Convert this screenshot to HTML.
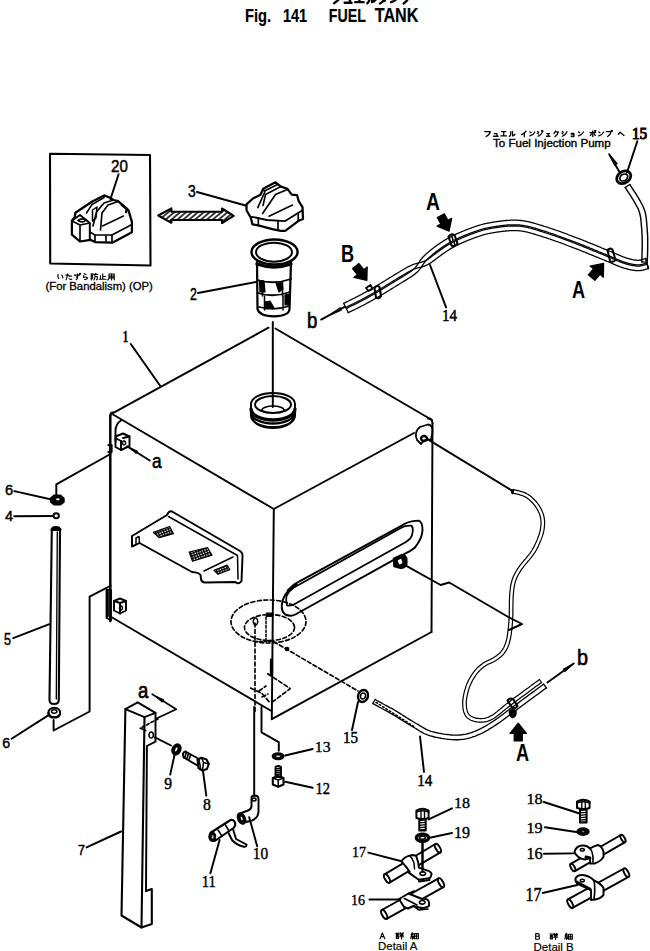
<!DOCTYPE html>
<html><head><meta charset="utf-8">
<style>
html,body{margin:0;padding:0;background:#fff;width:650px;height:951px;overflow:hidden}
svg{display:block;position:absolute;left:0;top:0}
.r{font-family:"Liberation Serif",serif}
</style></head><body>
<svg width="650" height="951" viewBox="0 0 650 951">
<defs><pattern id="mesh" width="2.6" height="2.6" patternUnits="userSpaceOnUse" patternTransform="rotate(-20)"><rect width="2.6" height="2.6" fill="#fff"/><path d="M0 0.6 H2.6 M0.6 0 V2.6" stroke="#000" stroke-width="1.3"/></pattern><pattern id="hatch" width="3.8" height="20" patternUnits="userSpaceOnUse" patternTransform="rotate(50)"><rect width="3.8" height="20" fill="#fff"/><path d="M1 0 V20" stroke="#000" stroke-width="1.5"/></pattern></defs>
<g fill="none" stroke="#000" stroke-width="1.95" stroke-linejoin="round" stroke-linecap="round"><path d="M268.5 327.7 L111.5 413.8"/><path d="M275.4 328.5 L432 420"/><path d="M113 414.5 L273.8 509 L414 433"/><path d="M110.3 416 L110.3 621" stroke-width="2.47"/><path d="M110.3 416 Q110.5 412.5 113 412.8" stroke-width="2.40"/><path d="M273.8 509 L271.8 719"/><path d="M432.5 423 L431.5 632"/><path d="M428 418.5 Q432 418 432.5 423"/><path d="M109.6 616 L270.5 710.5"/><path d="M271.8 719.2 L431.5 632"/><path d="M251 404 A22 11 0 0 1 295 404 L295 416 A22 11 0 0 1 251 416 Z"/><path d="M255 404.5 A18 8.5 0 0 1 291 404.5 A18 8.5 0 0 1 255 404.5 Z"/><path d="M262 410 A11 4 0 0 1 284 410" stroke-width="1.50"/><path d="M251 409 A22 11 0 0 0 295 409" stroke-width="3.30"/><path d="M251 412.5 A22 11 0 0 0 295 412.5" stroke-width="2.40"/><path d="M253 418 A20 10 0 0 0 293 418 L293 412" stroke-width="1.80"/><path d="M253 418 L253 412" stroke-width="1.80"/><path d="M272.8 322 L272.8 407"/><path d="M130.8 344 L160.3 386"/><path d="M121 420.5 Q115.5 424 115.5 431 L115.5 441"/><path d="M115.5 436.5 L123 433.5 L129.5 436.5 L129.5 446 L121 450 L115.5 447 Z"/><path d="M123 438 L129.5 436.5 M121 441 L121 450"/><path d="M121 441 L115.5 438" stroke-width="1.50"/><path d="M124 441 a1.6 2 0 1 0 0.01 0" stroke-width="1.50"/><path d="M108.5 445 L111.5 445 L111.5 452 L108.5 452" stroke-width="2.25"/><path d="M149.7 460.5 L127.1 446.2"/><path d="M129.8 448.4 L136.3 453.6 L137.7 451.2 L130.2 447.8 Z" stroke-width="0.90" fill="#000"/><path d="M114 601 L120 598.5 L126 601 L126 610.5 L120 613.5 L114 610.5 Z"/><path d="M120 603 L126 601 M120 603 L120 613.5 M114 601 L120 603"/><path d="M121 606 a1.5 2 0 1 0 0.01 0" stroke-width="1.50"/><path d="M106.5 590 L111 590 L111 620 L106.5 618 Z" stroke-width="1.80"/><path d="M107.5 592 L107.5 616" stroke-width="2.70"/><path d="M132 536 L167 515 Q169 510.5 172 511.5 L240 551 Q243 553 242.5 557 L241.5 581 Q239 585 235.5 582 L204.5 582.5 Q201.5 582 201 579 L200.5 575 Q199 572.5 192 572 L139.5 543 L135.5 545 L132 546.5 Z"/><path d="M136 544.5 L136 538 L139 536.5 L139.5 543" stroke-width="1.50"/><path d="M168.5 516.5 L237.5 555.5 L238 579" stroke-width="1.50"/><path d="M204 571 L233 557" stroke-width="1.50"/><g fill="url(#mesh)" stroke-width="1.20"><path d="M153.3 532.4 L169.6 526.5 L173.5 533.7 L159.2 537.7 Z"/><path d="M189.2 552 L207.5 547.5 L212.1 555.3 L192.5 561.2 Z"/><path d="M214 570.3 L227.2 565.1 L229.8 569.7 L218 574.3 Z"/></g><path d="M417 440 Q413.5 432 420 427 L428 424.5 Q433 425 432.5 432 L431 440 Q425 438 421 444 Z" stroke-width="1.80"/><path d="M424 436 a3 2.5 0 1 0 0.01 0" stroke-width="2.40"/><path d="M298.1 582.2 L400.8 526.2 Q407 521 418.4 520.6 Q422.5 521.5 422.5 530 Q422.5 538 414.7 547.8 Q411 551 405.5 553.4 L295.3 614.5 Q291 617 285.2 614.5 Q281 611 281.9 604 Q283 597 287 592.3 Q292 585 298.1 582.2 Z" stroke-width="1.95"/><path d="M293.5 587.7 L400.8 528 Q405 525.3 411.5 525.7 Q413 527 412.8 531 Q412.5 536 410.1 538.6 Q408 540.5 405.5 542.3 L292.5 605.2 Q288 606 287 605.2 Q285.5 600 286.5 596 Q288.5 591 293.5 587.7 Z" stroke-width="1.80"/><path d="M288.5 590.5 L296 584.5" stroke-width="3.30"/><path d="M393.5 558.5 L401 555 Q406 554.3 406.8 559 L406.8 564 Q405.5 568.2 400.5 568.2 L394 566.5 Z" stroke-width="1.50" fill="#000"/><path d="M397.5 560 L401.5 558 L403 563.5 L399 565 Z" stroke-width="0.90" fill="#fff"/><path d="M428.3 439.7 L513.2 491.4"/><path d="M405 565.2 L440.6 585 L449.2 582.5 L508.3 617 L522 624 L509 630"/><g stroke-dasharray="4 2.5" stroke-width="1.65"><ellipse cx="268.5" cy="621.5" rx="37.5" ry="21.5"/><ellipse cx="269.5" cy="627.5" rx="25" ry="13"/><path d="M255 623 L255 712"/><path d="M273.8 641.7 L358 691"/><path d="M267.7 673.8 L290.3 688.6 L270.5 703.4"/><path d="M250.5 688 L262 693.5 L270.5 703.4 M259 691 L266 686 M262 697 L268 694"/></g><path d="M255.5 618 a2.2 3.5 0 1 0 0.01 0" stroke-width="1.50"/><path d="M266.5 613 L272.5 613 L272.5 616.5 L266.5 616.5 Z" stroke-width="1.20" fill="#000"/><path d="M266 617 L266 640.5 L270.5 640.5 M255.5 641.4 L271 641.4" stroke-dasharray="2.5 1.8" stroke-width="1.50"/><path d="M271.5 660 L271.5 674" stroke-width="3.30"/><circle cx="287" cy="649" r="1.4" fill="#000"/><path d="M50 153.8 L150 155 L150.5 265.5 L50.2 263.5 Z" stroke-width="2.10"/><path d="M71.9 220.8 L71.9 234.6 L80 241.5 L90.4 239.8 L95 242.1 L112.3 242.7 L131.9 232.3 L131.9 221.9 L128.5 210.4 L118.1 201.2 L113.5 200 L110 197.7 L104.2 195.4 L92.7 201.2 L75.4 212.7 L74.8 217.3 Z" stroke-width="2.25"/><path d="M71.9 220.8 L80 215 L89.8 223 L89.8 239.5" stroke-width="1.95"/><path d="M80 225 L89.8 223 M80 225 L80 241.5 M72 221 L80 225" stroke-width="1.65"/><path d="M78 220.5 Q82 217.5 86 220 Q83 223.5 78 220.5 Z" stroke-width="1.80"/><path d="M89.8 232 L95 235 L112 235 L131.9 224.5" stroke-width="1.65"/><path d="M95 235 L95 242 M112 235 L112 242.7 M106 236 L106 241" stroke-width="1.65"/><path d="M93 226 L96.5 212 L104 203 L113.5 200" stroke-width="1.65"/><path d="M100.5 230 L102 213 L108 205 L118 201.5" stroke-width="1.65"/><path d="M86.5 213 L92 204.5 L104.2 197.5" stroke-width="1.50"/><path d="M102.5 226 L123.5 216" stroke-width="1.50"/><path d="M92.5 210 L97 207 L96 218 L92.5 221 Z" stroke-width="1.50"/><path d="M122 205 L127 209 L126 212" stroke-width="2.40"/><path d="M118.6 174.2 L110.5 199"/><path d="M158.2 215.5 L171.4 208.3 L171.4 211.8 L222 211.8 L222 208.5 L233.7 215.9 L222 223 L222 220 L171.4 220 L171.4 222.8 Z" stroke-width="2.10" fill="url(#hatch)"/><path d="M246.5 204.4 L252.9 198.5 L260.5 194.7 L263.2 188.8 L275.5 182.3 L280.9 186.6 L287.4 188.8 L291.7 194.7 L297.1 195.2 L298.7 201.2 L302.5 207.1 L303 218.9 L298.2 221.1 L285.2 230.8 L280.9 230.8 L272.3 229.2 L258.3 225.4 L252.4 224.3 L250.8 217.8 L246.5 210.3 Z" stroke-width="2.25"/><path d="M251.8 216.8 L266.9 220 L285.2 221.1 L302.5 210.3" stroke-width="1.80"/><path d="M258.3 218 L258.3 225.4 M278 221 L278 230.5 M298.2 213 L298.2 221" stroke-width="1.65"/><path d="M263.2 188.8 L264.8 192 L257.8 207.6" stroke-width="1.65"/><path d="M280.9 186.6 L265.5 194.5 L263 205.5" stroke-width="1.65"/><path d="M287.4 189.5 L275.5 194.5 L262.6 213.5" stroke-width="1.65"/><path d="M292.5 205 L269 216.3" stroke-width="1.50"/><path d="M264.5 191 L277.5 184.5" stroke-width="1.50"/><path d="M197 192 L245.5 205.5"/><path d="M251.5 252 A23 12.5 0 1 1 297.6 252 A23 12.5 0 1 1 251.5 252 Z" stroke-width="2.40"/><path d="M256 252.2 A18 9.5 0 1 1 292 252.2 A18 9.5 0 1 1 256 252.2 Z" stroke-width="1.95"/><path d="M257 262 L257.5 309 Q259 316 274 316.3 Q289 316 289.5 309 L291 262" stroke-width="2.25"/><path d="M257 264 Q274 270 291 264" stroke-width="3.30"/><path d="M257.5 280 Q274 285 291 279" stroke-width="1.80"/><path d="M258 293 Q274 298 290 292" stroke-width="1.80"/><path d="M259 307 Q274 311 289.5 306" stroke-width="1.80"/><path d="M262.5 281 L262.5 296 M282.5 282 L282.5 296 M264.5 296 L264.5 310 M283 296 L283 310" stroke-width="1.50"/><path d="M259.5 280.5 L264 281 L265 292 L260 292 Z" stroke-width="1.20" fill="#000"/><path d="M276 283 L282 282.5 L283 289 L279 292 Z" stroke-width="1.20" fill="#000"/><path d="M285 295 L289.5 294 L289 305 L285 305 Z" stroke-width="1.20" fill="#000"/><path d="M264.5 302 L270 301 L274 308 L266 309 Z" stroke-width="1.20" fill="#000"/><path d="M198 293 L256 282"/><path d="M56.3 495.4 L56.3 484.3 L110.5 454"/><path d="M51 498 L54 495.5 L60.5 495.5 L63.8 498.5 L63.8 502 L60.5 504.5 L54 504.5 L51 502 Z" stroke-width="1.80" fill="#000"/><path d="M55.5 499.3 a2.2 1.4 0 1 0 4.4 0 a2.2 1.4 0 1 0 -4.4 0" stroke-width="0.75" fill="#fff"/><path d="M14.3 491.1 L51.5 499.5"/><path d="M53.5 515.7 a2.7 2.5 0 1 0 5.4 0 a2.7 2.5 0 1 0 -5.4 0" stroke-width="1.95"/><path d="M14.3 516.3 L52.6 516"/><path d="M51.8 530 Q51.8 527 56 527 Q60 527 60 530 L58.8 700 Q58.8 704 54 704 Q49.5 704 49.5 700 Z" stroke-width="2.10"/><path d="M52 529.5 L60 529.5" stroke-width="3.00"/><path d="M57.3 532 L56.3 699" stroke-width="1.35"/><path d="M13.2 638.2 L49.4 624.2"/><path d="M48.5 712.5 A5.8 4.2 0 1 1 60 712.5 A5.8 4.2 0 1 1 48.5 712.5 Z" stroke-width="1.95"/><path d="M48.5 712.5 L48.5 714 A5.8 4.2 0 0 0 60 714 L60 712.5" stroke-width="1.95"/><path d="M51.5 711.5 a2.7 1.7 0 1 0 5.4 0 a2.7 1.7 0 1 0 -5.4 0" stroke-width="1.50"/><path d="M11.6 738.8 L49.4 714.6"/><path d="M53.6 720 L53.6 730.5 L89.6 711.5 L89.6 596.7 L110.9 585.6"/><path d="M125.4 709.1 L137.7 702.3 L155.5 712.8 L144.5 717.1 Z" stroke-width="1.95"/><path d="M125.4 709.1 L121.5 915.5 L141.5 927.5 L151.8 924 L151.8 889 L146 891" stroke-width="2.10"/><path d="M144.5 717.1 L141.5 927.5" stroke-width="2.10"/><path d="M155.5 712.8 L155.5 741.7 L146.9 746 L146 891" stroke-width="1.95"/><path d="M152.3 694.2 L176.2 709.2 L156.5 718.5" stroke-width="1.80"/><path d="M156.3 697.2 L162.2 702.3 L163.8 699.7 L156.7 696.6 Z" stroke-width="0.90" fill="#000"/><path d="M158 718.9 L140.2 728.2 L145.7 730.6" stroke-dasharray="3 2" stroke-width="1.65"/><path d="M151.2 735 m-2.2 0 a2.2 3 0 1 0 4.4 0 a2.2 3 0 1 0 -4.4 0" stroke-width="1.65"/><path d="M154.9 737.4 L171 745.5"/><ellipse cx="176.5" cy="749.4" rx="4.2" ry="5.6" transform="rotate(25 176.5 749.4)" fill="#000" stroke-width="1.50"/><ellipse cx="176.3" cy="749.4" rx="0.9" ry="2.2" transform="rotate(25 176.3 749.4)" fill="#fff" stroke="none"/><path d="M174.5 755 L170.2 774.6"/><path d="M185.5 751.5 L199 759 M183.8 757.5 L197.5 765.5" stroke-width="1.95"/><path d="M185.5 751.5 Q181.5 752.5 183.8 757.5" stroke-width="2.10"/><g stroke-width="1.65"><path d="M186.5 752.3 L184.8 757.2"/><path d="M188.6 753.5 L186.9 758.4"/><path d="M190.7 754.7 L189.0 759.6"/></g><path d="M197.5 759.5 L201.5 757.8 L206.5 759.5 L208.8 764 L207 769 L202.5 770.5 L198.5 768 Z" stroke-width="2.10"/><path d="M201.5 757.8 L203.5 762.5 L208.8 764 M203.5 762.5 L202.5 770.5 M199 760 L200.5 767.5" stroke-width="1.50"/><path d="M203 771 L206.3 795.6"/><path d="M86.6 847.4 L121 831.5"/><path d="M254.2 707 L254.2 796.3"/><path d="M261.5 707 L261.5 732.3 L278.8 742.2 L278.8 750.8"/><path d="M272.6 756.3 a5.5 3 0 1 0 11 0 a5.5 3 0 1 0 -11 0" stroke-width="1.95" fill="#000"/><path d="M275.6 756.3 a2.5 1.2 0 1 0 5 0 a2.5 1.2 0 1 0 -5 0" stroke-width="0.90" fill="#fff"/><path d="M285.2 755.5 L312.7 749"/><path d="M275.5 767 L275.5 777 L281 777 L281 767 Q278 765 275.5 767 Z" stroke-width="1.80"/><g stroke-width="1.50"><path d="M275.5 769.0 L281 768.0"/><path d="M275.5 771.0 L281 770.0"/><path d="M275.5 773.0 L281 772.0"/><path d="M275.5 775.0 L281 774.0"/></g><path d="M272.8 778 L278.2 776 L283.5 778 L283.5 784.5 L278.2 786.8 L272.8 784.5 Z" stroke-width="2.10"/><path d="M278.2 780 L278.2 786.8 M272.8 778 L278.2 780 L283.5 778" stroke-width="1.50"/><path d="M285.2 781.8 L312.7 787.8"/><path d="M251.5 799 Q251 795.5 254.5 795.5 Q258.5 795.5 258.5 799 L258.5 812 Q258 818 252 820.5 L246 822 L241.5 813 L248 810.5 Q251.5 809 251.5 806 Z" stroke-width="1.95"/><path d="M252 799.5 a2 1.5 0 1 0 4 0 a2 1.5 0 1 0 -4 0" stroke-width="1.50"/><path d="M238.5 814 a3 5 -25 1 0 6 9 a3 5 -25 1 0 -6 -9" stroke-width="2.10" fill="#000"/><path d="M240.5 816.5 a1.2 2.3 -25 1 0 2.4 4 a1.2 2.3 -25 1 0 -2.4 -4" stroke-width="0.90" fill="#fff"/><path d="M249.2 817.2 L257.2 846.2"/><path d="M211 832.5 L229 821 Q232 818.5 234.5 821.5 Q236.5 825 233.5 828 L215.5 840.5 Q211 842 209.8 838.5 Q209 835 211 832.5 Z" stroke-width="2.10"/><path d="M209.8 835.5 a2.6 3.3 -30 1 0 5.2 2 a2.6 3.3 -30 1 0 -5.2 -2" stroke-width="1.95" fill="#000"/><path d="M211.7 836.5 a1 1.5 -30 1 0 2 1 a1 1.5 -30 1 0 -2 -1" stroke-width="0.75" fill="#fff"/><path d="M228 832 L232 840 Q236.5 845 243 846.5 Q247 847.5 246.5 844.5 L236 839 L233 829" stroke-width="1.95"/><path d="M218 830 L222 836 M225.5 825 L229 831" stroke-width="1.50"/><path d="M219.6 840 L210.4 873.2"/><g stroke-width="1.27"><path d="M348.3 312.7 L348.4 312.6 L348.6 312.5 L348.8 312.4 L349.0 312.3 L349.2 312.2 L349.5 312.1 L349.7 312.0 L350.0 311.8 L350.3 311.7 L350.6 311.5 L350.9 311.4 L351.2 311.3 L351.5 311.1 L351.8 311.0 L352.1 310.8 L352.4 310.6 L352.8 310.5 L353.1 310.3 L353.5 310.1 L353.8 309.9 L354.2 309.8 L354.6 309.6 L354.9 309.4 L355.3 309.2 L355.7 309.0 L356.1 308.9 L356.4 308.7 L356.8 308.5 L357.2 308.3 L357.6 308.1 L358.0 307.9 L358.4 307.7 L358.8 307.5 L359.2 307.3 L359.6 307.1 L360.0 306.9 L360.4 306.7 L360.7 306.5 L361.1 306.3 L361.5 306.1 L361.9 305.9 L362.2 305.7 L362.6 305.5 L363.0 305.4 L363.3 305.2 L363.7 305.0 L364.1 304.8 L364.4 304.6 L364.8 304.4 L365.1 304.2 L365.5 304.0 L365.8 303.9 L366.1 303.7 L366.5 303.5 L366.8 303.3 L367.1 303.1 L367.5 303.0 L367.8 302.8 L368.1 302.6 L368.5 302.4 L368.8 302.2 L369.1 302.1 L369.4 301.9 L369.8 301.7 L370.1 301.5 L370.4 301.3 L370.8 301.1 L371.1 301.0 L371.4 300.8 L371.8 300.6 L372.1 300.4 L372.4 300.2 L372.8 300.0 L373.1 299.8 L373.4 299.7 L373.8 299.5 L374.1 299.3 L374.4 299.1 L374.8 298.9 L375.1 298.7 L375.4 298.5 L375.8 298.3 L376.1 298.1 L376.5 297.9 L376.8 297.7 L377.1 297.5 L377.5 297.3 L377.8 297.1 L378.2 296.9 L378.5 296.7 L378.9 296.5 L379.2 296.3 L379.6 296.1 L379.9 295.9 L380.3 295.7 L380.6 295.5 L381.0 295.3 L381.4 295.1 L381.7 294.8 L382.1 294.6 L382.5 294.4 L382.8 294.2 L383.2 294.0 L383.6 293.7 L383.9 293.5 L384.3 293.3 L384.7 293.1 L385.1 292.8 L385.4 292.6 L385.8 292.4 L386.2 292.2 L386.6 291.9 L386.9 291.7 L387.3 291.5 L387.7 291.2 L388.1 291.0 L388.5 290.8 L388.8 290.5 L389.2 290.3 L389.6 290.1 L390.0 289.8 L390.4 289.6 L390.7 289.3 L391.1 289.1 L391.5 288.9 L391.9 288.6 L392.3 288.4 L392.7 288.2 L393.0 287.9 L393.4 287.7 L393.8 287.5 L394.2 287.2 L394.6 287.0 L394.9 286.8 L395.3 286.5 L395.7 286.3 L396.1 286.1 L396.4 285.8 L396.8 285.6 L397.2 285.4 L397.6 285.1 L398.0 284.9 L398.3 284.7 L398.7 284.4 L399.1 284.2 L399.5 284.0 L399.9 283.7 L400.2 283.5 L400.6 283.3 L401.0 283.0 L401.4 282.8 L401.8 282.6 L402.2 282.3 L402.6 282.1 L403.0 281.8 L403.4 281.6 L403.8 281.4 L404.2 281.1 L404.6 280.9 L405.0 280.6 L405.4 280.4 L405.8 280.1 L406.2 279.9 L406.6 279.6 L407.0 279.4 L407.4 279.1 L407.8 278.9 L408.2 278.6 L408.6 278.4 L409.0 278.1 L409.4 277.9 L409.8 277.7 L410.1 277.4 L410.5 277.2 L410.9 276.9 L411.3 276.7 L411.7 276.4 L412.1 276.2 L412.4 275.9 L412.8 275.6 L413.2 275.4 L413.5 275.1 L413.9 274.9 L414.2 274.6 L414.5 274.4 L414.9 274.1 L415.2 273.9 L415.5 273.6 L415.8 273.3 L416.1 273.1 L416.4 272.8 L416.7 272.6 L417.0 272.3 L417.3 272.1 L417.5 271.8 L417.8 271.5 L418.0 271.3 L418.3 271.1 L418.5 270.8 L418.7 270.6 L418.9 270.3 L419.1 270.1 L419.3 269.9 L419.5 269.7 L419.7 269.4 L419.9 269.2 L420.0 269.0 L420.2 268.7 L420.4 268.5 L420.5 268.3 L420.7 268.1 L420.8 267.9 L421.0 267.7 L421.1 267.5 L421.2 267.3 L421.4 267.1 L421.5 266.9 L421.6 266.7 L421.8 266.4 L421.9 266.2 L422.0 266.0 L422.2 265.8 L422.3 265.6 L422.4 265.5 L422.5 265.3 L422.7 265.1 L422.8 264.9 L422.9 264.7 L423.1 264.5 L423.2 264.3 L423.4 264.0 L423.5 263.8 L423.7 263.6 L423.8 263.4 L424.0 263.2 L424.1 263.0 L424.3 262.7 L424.4 262.5 L424.6 262.3 L424.8 262.1 L425.0 261.9 L425.1 261.6 L425.3 261.4 L425.6 261.2 L425.8 260.9 L426.0 260.7 L426.2 260.4 L426.4 260.2 L426.6 259.9 L426.9 259.7 L427.1 259.5 L427.3 259.2 L427.6 259.0 L427.8 258.7 L428.1 258.5 L428.3 258.2 L428.6 258.0 L428.9 257.7 L429.1 257.5 L429.4 257.2 L429.7 257.0 L430.0 256.7 L430.3 256.5 L430.5 256.2 L430.8 256.0 L431.1 255.7 L431.4 255.5 L431.7 255.2 L432.0 255.0 L432.3 254.7 L432.6 254.5 L432.9 254.2 L433.2 254.0 L433.5 253.7 L433.8 253.5 L434.1 253.3 L434.4 253.0 L434.7 252.8 L435.0 252.5 L435.3 252.3 L435.6 252.1 L435.9 251.9 L436.2 251.6 L436.5 251.4 L436.8 251.2 L437.1 250.9 L437.4 250.7 L437.7 250.5 L438.0 250.3 L438.3 250.1 L438.5 249.9 L438.8 249.7 L439.1 249.5 L439.4 249.3 L439.7 249.1 L439.9 248.9 L440.2 248.7 L440.5 248.5 L440.8 248.3 L441.1 248.1 L441.3 247.9 L441.6 247.7 L441.9 247.5 L442.2 247.3 L442.5 247.1 L442.7 246.9 L443.0 246.7 L443.3 246.6 L443.6 246.4 L443.9 246.2 L444.1 246.0 L444.4 245.8 L444.7 245.6 L445.0 245.4 L445.3 245.3 L445.6 245.1 L445.9 244.9 L446.1 244.7 L446.4 244.5 L446.7 244.3 L447.0 244.2 L447.3 244.0 L447.6 243.8 L447.9 243.6 L448.2 243.4 L448.5 243.3 L448.8 243.1 L449.1 242.9 L449.5 242.7 L449.8 242.5 L450.1 242.4 L450.4 242.2 L450.7 242.0 L451.1 241.8 L451.4 241.6 L451.7 241.5 L452.1 241.3 L452.4 241.1 L452.7 240.9 L453.1 240.8 L453.4 240.6 L453.8 240.4 L454.1 240.2 L454.5 240.0 L454.8 239.9 L455.2 239.7 L455.5 239.5 L455.9 239.3 L456.3 239.2 L456.6 239.0 L457.0 238.8 L457.4 238.6 L457.7 238.5 L458.1 238.3 L458.5 238.1 L458.9 237.9 L459.2 237.8 L459.6 237.6 L460.0 237.4 L460.4 237.3 L460.8 237.1 L461.1 236.9 L461.5 236.8 L461.9 236.6 L462.3 236.4 L462.7 236.3 L463.1 236.1 L463.5 235.9 L463.9 235.8 L464.3 235.6 L464.6 235.4 L465.0 235.3 L465.4 235.1 L465.8 235.0 L466.2 234.8 L466.6 234.7 L467.0 234.5 L467.4 234.3 L467.8 234.2 L468.2 234.0 L468.6 233.9 L469.0 233.7 L469.4 233.6 L469.8 233.4 L470.2 233.3 L470.6 233.1 L471.0 233.0 L471.4 232.8 L471.7 232.7 L472.1 232.6 L472.5 232.4 L472.9 232.3 L473.3 232.1 L473.7 232.0 L474.1 231.9 L474.4 231.7 L474.8 231.6 L475.2 231.4 L475.6 231.3 L476.0 231.2 L476.4 231.0 L476.8 230.9 L477.2 230.7 L477.6 230.6 L478.0 230.5 L478.4 230.3 L478.8 230.2 L479.2 230.1 L479.6 230.0 L480.0 229.8 L480.4 229.7 L480.8 229.6 L481.2 229.5 L481.6 229.3 L482.0 229.2 L482.5 229.1 L482.9 229.0 L483.3 228.9 L483.8 228.7 L484.2 228.6 L484.6 228.5 L485.1 228.4 L485.6 228.3 L486.0 228.2 L486.5 228.1 L487.0 228.0 L487.4 227.9 L487.9 227.8 L488.4 227.7 L488.9 227.6 L489.4 227.5 L489.9 227.4 L490.4 227.3 L490.9 227.2 L491.5 227.1 L492.0 227.0 L492.5 226.9 L493.1 226.9 L493.6 226.8 L494.2 226.7 L494.8 226.6 L495.3 226.5 L495.9 226.4 L496.5 226.3 L497.1 226.2 L497.7 226.2 L498.3 226.1 L498.9 226.0 L499.5 225.9 L500.1 225.8 L500.7 225.7 L501.3 225.7 L501.9 225.6 L502.5 225.5 L503.2 225.4 L503.8 225.4 L504.4 225.3 L505.0 225.2 L505.7 225.2 L506.3 225.1 L506.9 225.1 L507.5 225.0 L508.2 225.0 L508.8 224.9 L509.4 224.9 L510.1 224.9 L510.7 224.8 L511.3 224.8 L511.9 224.8 L512.5 224.8 L513.1 224.8 L513.8 224.8 L514.4 224.8 L515.0 224.8 L515.6 224.8 L516.2 224.8 L516.8 224.8 L517.4 224.8 L518.0 224.9 L518.5 224.9 L519.1 224.9 L519.7 225.0 L520.3 225.1 L520.8 225.1 L521.4 225.2 L521.9 225.3 L522.5 225.3 L523.0 225.4 L523.6 225.5 L524.2 225.6 L524.7 225.7 L525.3 225.8 L525.8 225.9 L526.3 226.0 L526.9 226.1 L527.4 226.2 L527.9 226.3 L528.5 226.5 L529.0 226.6 L529.5 226.7 L530.1 226.9 L530.6 227.0 L531.2 227.2 L531.7 227.3 L532.2 227.4 L532.8 227.6 L533.3 227.7 L533.8 227.9 L534.4 228.1 L534.9 228.2 L535.5 228.4 L536.0 228.6 L536.5 228.7 L537.1 228.9 L537.7 229.1 L538.2 229.2 L538.8 229.4 L539.4 229.6 L539.9 229.8 L540.5 229.9 L541.1 230.1 L541.6 230.3 L542.2 230.5 L542.8 230.7 L543.4 230.8 L544.0 231.0 L544.6 231.2 L545.2 231.4 L545.8 231.6 L546.4 231.8 L547.0 232.0 L547.7 232.2 L548.3 232.4 L548.9 232.6 L549.6 232.8 L550.2 233.1 L550.9 233.3 L551.5 233.5 L552.2 233.7 L552.8 233.9 L553.5 234.1 L554.1 234.4 L554.8 234.6 L555.5 234.8 L556.1 235.1 L556.8 235.3 L557.5 235.6 L558.1 235.8 L558.8 236.0 L559.5 236.3 L560.2 236.5 L560.9 236.8 L561.5 237.0 L562.2 237.3 L562.9 237.5 L563.6 237.8 L564.3 238.0 L565.0 238.3 L565.7 238.6 L566.3 238.8 L567.0 239.1 L567.7 239.3 L568.4 239.6 L569.1 239.8 L569.8 240.1 L570.4 240.4 L571.1 240.6 L571.8 240.9 L572.5 241.1 L573.1 241.4 L573.8 241.6 L574.5 241.9 L575.2 242.1 L575.8 242.4 L576.5 242.7 L577.2 242.9 L577.9 243.2 L578.6 243.5 L579.3 243.7 L580.0 244.0 L580.7 244.3 L581.4 244.6 L582.1 244.8 L582.8 245.1 L583.5 245.4 L584.2 245.7 L584.9 246.0 L585.6 246.2 L586.3 246.5 L587.0 246.8 L587.8 247.1 L588.5 247.4 L589.2 247.7 L589.9 248.0 L590.7 248.3 L591.4 248.6 L592.1 248.9 L592.8 249.2 L593.5 249.5 L594.2 249.8 L594.9 250.0 L595.6 250.3 L596.3 250.6 L597.0 250.9 L597.7 251.2 L598.4 251.5 L599.1 251.8 L599.8 252.0 L600.4 252.3 L601.1 252.6 L601.7 252.9 L602.4 253.1 L603.0 253.4 L603.6 253.6 L604.2 253.9 L604.8 254.1 L605.4 254.4 L606.0 254.6 L606.5 254.8 L607.1 255.1 L607.7 255.3 L608.2 255.5 L608.7 255.7 L609.2 255.9 L609.7 256.1 L610.2 256.3 L610.7 256.5 L611.1 256.7 L611.6 256.9 L612.0 257.1 L612.4 257.3 L612.9 257.5 L613.3 257.6 L613.7 257.8 L614.1 258.0 L614.4 258.1 L614.8 258.3 L615.2 258.4 L615.5 258.6 L615.9 258.7 L616.2 258.9 L616.5 259.0 L616.9 259.2 L617.2 259.3 L617.5 259.5 L617.8 259.6 L618.1 259.7 L618.4 259.9 L618.7 260.0 L619.0 260.1 L619.3 260.2 L619.6 260.3 L619.9 260.5 L620.1 260.6 L620.4 260.7 L620.7 260.8 L621.0 260.9 L621.2 261.0 L621.5 261.1 L621.8 261.3 L622.1 261.4 L622.4 261.5 L622.6 261.6 L622.9 261.7 L623.2 261.8 L623.5 261.9 L623.8 262.0 L624.0 262.1 L624.3 262.1 L624.6 262.2 L624.9 262.3 L625.2 262.4 L625.5 262.5 L625.8 262.6 L626.1 262.7 L626.3 262.8 L626.6 262.9 L626.9 263.0 L627.2 263.0 L627.5 263.1 L627.8 263.2 L628.1 263.3 L628.4 263.4 L628.7 263.4 L629.0 263.5 L629.3 263.6 L629.6 263.6 L629.8 263.7 L630.1 263.8 L630.4 263.8 L630.7 263.9 L631.0 264.0 L631.2 264.0 L631.5 264.1 L631.8 264.1 L632.1 264.2 L632.3 264.2 L632.6 264.3 L632.9 264.3 L633.1 264.4 L633.4 264.4 L633.6 264.5 L633.9 264.5 L634.2 264.6 L634.4 264.6 L634.7 264.6 L634.9 264.7 L635.2 264.7 L635.4 264.7 L635.7 264.7 L635.9 264.8 L636.1 264.8 L636.4 264.8 L636.6 264.8 L636.8 264.9 L637.1 264.9 L637.3 264.9 L637.6 264.9 L637.8 264.9 L638.0 264.9 L638.3 264.9 L638.5 264.9 L638.7 264.9 L638.9 264.9 L639.2 264.9 L639.4 264.8 L639.6 264.8 L639.8 264.8 L640.0 264.8 L640.2 264.7 L640.4 264.7 L640.6 264.7 L640.8 264.6 L641.1 264.6 L641.3 264.6 L641.5 264.5 L641.7 264.5 L641.9 264.4 L642.1 264.4 L642.4 264.3 L642.6 264.2 L642.7 264.2 L642.9 264.1 L643.1 264.1 L643.3 264.0 L643.5 264.0 L643.7 263.9 L643.9 263.8 L644.1 263.8 L644.3 263.7 L644.5 263.7 L644.6 263.6 L644.8 263.6 L645.0 263.5 L645.1 263.5 L645.3 263.4 L645.4 263.4 L645.6 263.3 L645.7 263.3 L645.9 263.2 L646.1 263.2 L646.2 263.1 L646.4 263.1 L646.5 263.0 L646.6 263.0 L646.7 263.0 L646.8 262.9 L646.9 262.9 L647.0 262.9 L647.0 262.9 L647.1 262.9 L647.1 262.9 L645.7 258.5 L645.7 258.5 L645.7 258.5 L645.7 258.5 L645.6 258.5 L645.6 258.5 L645.6 258.5 L645.6 258.5" /><path d="M346.3 308.5 L346.4 308.5 L346.6 308.4 L346.8 308.3 L347.0 308.2 L347.2 308.1 L347.4 308.0 L347.7 307.8 L348.0 307.7 L348.3 307.6 L348.6 307.4 L348.8 307.3 L349.1 307.1 L349.4 307.0 L349.7 306.8 L350.1 306.7 L350.4 306.5 L350.7 306.3 L351.1 306.2 L351.4 306.0 L351.8 305.8 L352.2 305.6 L352.5 305.5 L352.9 305.3 L353.3 305.1 L353.6 304.9 L354.0 304.7 L354.4 304.5 L354.8 304.4 L355.2 304.2 L355.6 304.0 L356.0 303.8 L356.4 303.6 L356.7 303.4 L357.1 303.2 L357.5 303.0 L357.9 302.8 L358.3 302.6 L358.6 302.4 L359.0 302.2 L359.4 302.0 L359.8 301.8 L360.1 301.7 L360.5 301.5 L360.9 301.3 L361.2 301.1 L361.6 300.9 L361.9 300.7 L362.3 300.5 L362.6 300.3 L363.0 300.2 L363.3 300.0 L363.6 299.8 L364.0 299.6 L364.3 299.5 L364.6 299.3 L364.9 299.1 L365.3 298.9 L365.6 298.8 L365.9 298.6 L366.2 298.4 L366.6 298.2 L366.9 298.0 L367.2 297.9 L367.6 297.7 L367.9 297.5 L368.2 297.3 L368.5 297.1 L368.9 296.9 L369.2 296.8 L369.5 296.6 L369.8 296.4 L370.2 296.2 L370.5 296.0 L370.8 295.8 L371.2 295.7 L371.5 295.5 L371.8 295.3 L372.2 295.1 L372.5 294.9 L372.8 294.7 L373.1 294.5 L373.5 294.3 L373.8 294.1 L374.2 293.9 L374.5 293.7 L374.8 293.5 L375.2 293.3 L375.5 293.1 L375.9 292.9 L376.2 292.7 L376.6 292.5 L376.9 292.3 L377.2 292.1 L377.6 291.9 L377.9 291.7 L378.3 291.5 L378.7 291.3 L379.0 291.1 L379.4 290.9 L379.7 290.7 L380.1 290.5 L380.5 290.2 L380.8 290.0 L381.2 289.8 L381.6 289.6 L381.9 289.3 L382.3 289.1 L382.7 288.9 L383.0 288.7 L383.4 288.5 L383.8 288.2 L384.2 288.0 L384.5 287.8 L384.9 287.5 L385.3 287.3 L385.7 287.1 L386.1 286.8 L386.4 286.6 L386.8 286.4 L387.2 286.1 L387.6 285.9 L387.9 285.7 L388.3 285.4 L388.7 285.2 L389.1 285.0 L389.5 284.7 L389.9 284.5 L390.2 284.3 L390.6 284.0 L391.0 283.8 L391.4 283.5 L391.8 283.3 L392.1 283.1 L392.5 282.8 L392.9 282.6 L393.3 282.4 L393.7 282.1 L394.0 281.9 L394.4 281.7 L394.8 281.4 L395.2 281.2 L395.5 281.0 L395.9 280.7 L396.3 280.5 L396.7 280.3 L397.1 280.0 L397.5 279.8 L397.9 279.6 L398.2 279.3 L398.6 279.1 L399.0 278.9 L399.4 278.6 L399.8 278.4 L400.2 278.1 L400.6 277.9 L401.0 277.7 L401.4 277.4 L401.8 277.2 L402.2 276.9 L402.6 276.7 L403.0 276.4 L403.4 276.2 L403.8 276.0 L404.2 275.7 L404.6 275.5 L405.0 275.2 L405.4 275.0 L405.8 274.7 L406.1 274.5 L406.5 274.3 L406.9 274.0 L407.3 273.8 L407.7 273.5 L408.1 273.3 L408.4 273.1 L408.8 272.8 L409.1 272.6 L409.5 272.3 L409.8 272.1 L410.1 271.9 L410.5 271.7 L410.8 271.4 L411.1 271.2 L411.4 270.9 L411.7 270.7 L412.0 270.5 L412.3 270.3 L412.6 270.0 L412.9 269.8 L413.2 269.6 L413.4 269.4 L413.7 269.1 L413.9 268.9 L414.1 268.7 L414.3 268.5 L414.5 268.3 L414.7 268.1 L414.9 267.9 L415.1 267.7 L415.3 267.5 L415.4 267.3 L415.6 267.1 L415.8 266.9 L416.0 266.7 L416.1 266.5 L416.2 266.4 L416.4 266.2 L416.5 266.0 L416.6 265.8 L416.8 265.6 L416.9 265.5 L417.0 265.3 L417.2 265.1 L417.3 264.9 L417.4 264.7 L417.6 264.5 L417.7 264.3 L417.8 264.1 L417.9 264.0 L418.0 263.8 L418.2 263.6 L418.3 263.4 L418.4 263.2 L418.5 263.0 L418.7 262.8 L418.8 262.6 L419.0 262.3 L419.1 262.1 L419.3 261.9 L419.4 261.7 L419.6 261.5 L419.7 261.2 L419.9 261.0 L420.0 260.7 L420.2 260.5 L420.4 260.3 L420.6 260.0 L420.8 259.7 L421.0 259.5 L421.2 259.2 L421.4 258.9 L421.6 258.7 L421.8 258.4 L422.1 258.2 L422.3 257.9 L422.5 257.6 L422.8 257.3 L423.0 257.1 L423.3 256.8 L423.5 256.5 L423.8 256.3 L424.1 256.0 L424.3 255.7 L424.6 255.4 L424.9 255.2 L425.2 254.9 L425.5 254.6 L425.7 254.4 L426.0 254.1 L426.3 253.8 L426.6 253.6 L426.9 253.3 L427.2 253.0 L427.5 252.8 L427.8 252.5 L428.1 252.2 L428.4 252.0 L428.7 251.7 L429.0 251.5 L429.3 251.2 L429.7 250.9 L430.0 250.7 L430.3 250.4 L430.6 250.2 L430.9 249.9 L431.2 249.7 L431.5 249.4 L431.8 249.2 L432.2 248.9 L432.5 248.7 L432.8 248.4 L433.1 248.2 L433.4 248.0 L433.7 247.7 L434.0 247.5 L434.3 247.3 L434.6 247.0 L434.9 246.8 L435.2 246.6 L435.5 246.4 L435.8 246.2 L436.1 245.9 L436.4 245.7 L436.7 245.5 L437.0 245.3 L437.3 245.1 L437.6 244.9 L437.9 244.7 L438.1 244.5 L438.4 244.3 L438.7 244.1 L439.0 243.9 L439.3 243.7 L439.6 243.5 L439.9 243.3 L440.1 243.1 L440.4 242.9 L440.7 242.7 L441.0 242.6 L441.3 242.4 L441.6 242.2 L441.9 242.0 L442.2 241.8 L442.5 241.6 L442.8 241.4 L443.1 241.2 L443.4 241.0 L443.7 240.8 L444.0 240.6 L444.3 240.4 L444.6 240.2 L444.9 240.0 L445.2 239.9 L445.6 239.7 L445.9 239.5 L446.2 239.3 L446.5 239.1 L446.8 238.9 L447.2 238.7 L447.5 238.5 L447.8 238.3 L448.2 238.2 L448.5 238.0 L448.9 237.8 L449.2 237.6 L449.6 237.4 L449.9 237.2 L450.3 237.0 L450.6 236.9 L451.0 236.7 L451.3 236.5 L451.7 236.3 L452.1 236.1 L452.4 235.9 L452.8 235.8 L453.2 235.6 L453.5 235.4 L453.9 235.2 L454.3 235.0 L454.7 234.8 L455.0 234.7 L455.4 234.5 L455.8 234.3 L456.2 234.1 L456.6 233.9 L456.9 233.8 L457.3 233.6 L457.7 233.4 L458.1 233.2 L458.5 233.1 L458.9 232.9 L459.3 232.7 L459.7 232.5 L460.1 232.4 L460.5 232.2 L460.9 232.0 L461.3 231.9 L461.7 231.7 L462.1 231.5 L462.5 231.4 L462.9 231.2 L463.3 231.0 L463.7 230.9 L464.1 230.7 L464.5 230.5 L464.9 230.4 L465.3 230.2 L465.8 230.1 L466.2 229.9 L466.6 229.7 L467.0 229.6 L467.4 229.4 L467.8 229.3 L468.2 229.1 L468.6 229.0 L469.0 228.8 L469.4 228.7 L469.7 228.5 L470.1 228.4 L470.5 228.2 L470.9 228.1 L471.3 228.0 L471.7 227.8 L472.1 227.7 L472.5 227.5 L472.9 227.4 L473.3 227.2 L473.7 227.1 L474.1 227.0 L474.5 226.8 L474.9 226.7 L475.3 226.5 L475.7 226.4 L476.1 226.3 L476.5 226.1 L476.9 226.0 L477.3 225.8 L477.8 225.7 L478.2 225.6 L478.6 225.4 L479.0 225.3 L479.5 225.2 L479.9 225.0 L480.3 224.9 L480.8 224.8 L481.2 224.7 L481.7 224.5 L482.1 224.4 L482.6 224.3 L483.1 224.2 L483.6 224.0 L484.0 223.9 L484.5 223.8 L485.0 223.7 L485.5 223.6 L486.0 223.5 L486.5 223.4 L487.0 223.3 L487.5 223.2 L488.0 223.1 L488.5 223.0 L489.1 222.9 L489.6 222.8 L490.1 222.7 L490.7 222.6 L491.2 222.5 L491.8 222.4 L492.3 222.3 L492.9 222.2 L493.5 222.1 L494.1 222.0 L494.6 221.9 L495.2 221.9 L495.8 221.8 L496.4 221.7 L497.0 221.6 L497.6 221.5 L498.2 221.4 L498.8 221.3 L499.5 221.3 L500.1 221.2 L500.7 221.1 L501.4 221.0 L502.0 220.9 L502.7 220.9 L503.3 220.8 L503.9 220.7 L504.6 220.7 L505.2 220.6 L505.9 220.5 L506.5 220.5 L507.2 220.4 L507.8 220.4 L508.5 220.3 L509.2 220.3 L509.8 220.3 L510.5 220.2 L511.1 220.2 L511.8 220.2 L512.4 220.2 L513.1 220.2 L513.7 220.2 L514.4 220.2 L515.0 220.2 L515.7 220.2 L516.3 220.2 L517.0 220.2 L517.6 220.2 L518.2 220.3 L518.9 220.3 L519.5 220.4 L520.1 220.4 L520.7 220.5 L521.3 220.5 L522.0 220.6 L522.6 220.7 L523.2 220.8 L523.7 220.9 L524.3 221.0 L524.9 221.1 L525.5 221.2 L526.1 221.3 L526.7 221.4 L527.3 221.5 L527.8 221.6 L528.4 221.7 L529.0 221.9 L529.5 222.0 L530.1 222.1 L530.7 222.3 L531.2 222.4 L531.8 222.6 L532.3 222.7 L532.9 222.9 L533.5 223.0 L534.0 223.2 L534.6 223.3 L535.1 223.5 L535.7 223.7 L536.2 223.8 L536.8 224.0 L537.4 224.2 L537.9 224.3 L538.5 224.5 L539.0 224.7 L539.6 224.8 L540.1 225.0 L540.7 225.2 L541.3 225.4 L541.9 225.5 L542.4 225.7 L543.0 225.9 L543.6 226.1 L544.2 226.3 L544.8 226.5 L545.4 226.7 L546.0 226.8 L546.6 227.0 L547.2 227.2 L547.8 227.4 L548.4 227.6 L549.1 227.8 L549.7 228.0 L550.3 228.3 L551.0 228.5 L551.7 228.7 L552.3 228.9 L553.0 229.1 L553.6 229.3 L554.3 229.6 L555.0 229.8 L555.6 230.0 L556.3 230.3 L557.0 230.5 L557.7 230.7 L558.3 231.0 L559.0 231.2 L559.7 231.5 L560.4 231.7 L561.1 232.0 L561.8 232.2 L562.4 232.5 L563.1 232.7 L563.8 233.0 L564.5 233.2 L565.2 233.5 L565.9 233.7 L566.6 234.0 L567.3 234.2 L568.0 234.5 L568.6 234.8 L569.3 235.0 L570.0 235.3 L570.7 235.5 L571.4 235.8 L572.1 236.1 L572.7 236.3 L573.4 236.6 L574.1 236.8 L574.8 237.1 L575.5 237.3 L576.1 237.6 L576.8 237.9 L577.5 238.1 L578.2 238.4 L578.9 238.6 L579.6 238.9 L580.3 239.2 L581.0 239.5 L581.7 239.7 L582.4 240.0 L583.1 240.3 L583.8 240.6 L584.5 240.8 L585.2 241.1 L585.9 241.4 L586.6 241.7 L587.3 242.0 L588.0 242.3 L588.8 242.6 L589.5 242.8 L590.2 243.1 L590.9 243.4 L591.7 243.7 L592.4 244.0 L593.1 244.3 L593.8 244.6 L594.6 244.9 L595.3 245.2 L596.0 245.5 L596.7 245.8 L597.4 246.1 L598.1 246.4 L598.8 246.7 L599.5 246.9 L600.2 247.2 L600.8 247.5 L601.5 247.8 L602.2 248.1 L602.8 248.3 L603.5 248.6 L604.1 248.9 L604.7 249.1 L605.3 249.4 L606.0 249.6 L606.5 249.9 L607.1 250.1 L607.7 250.3 L608.3 250.6 L608.9 250.8 L609.4 251.0 L609.9 251.3 L610.5 251.5 L611.0 251.7 L611.5 251.9 L612.0 252.1 L612.4 252.3 L612.9 252.5 L613.3 252.7 L613.8 252.9 L614.2 253.0 L614.6 253.2 L615.0 253.4 L615.5 253.6 L615.9 253.7 L616.2 253.9 L616.6 254.1 L617.0 254.2 L617.4 254.4 L617.7 254.5 L618.0 254.7 L618.4 254.8 L618.7 255.0 L619.0 255.1 L619.3 255.2 L619.6 255.4 L619.9 255.5 L620.2 255.6 L620.5 255.8 L620.8 255.9 L621.1 256.0 L621.4 256.1 L621.7 256.2 L621.9 256.3 L622.2 256.4 L622.4 256.6 L622.7 256.7 L622.9 256.8 L623.2 256.9 L623.5 257.0 L623.7 257.1 L624.0 257.2 L624.2 257.2 L624.5 257.3 L624.7 257.4 L625.0 257.5 L625.3 257.6 L625.5 257.7 L625.8 257.8 L626.0 257.9 L626.3 258.0 L626.6 258.0 L626.8 258.1 L627.1 258.2 L627.4 258.3 L627.6 258.4 L627.9 258.5 L628.2 258.5 L628.5 258.6 L628.8 258.7 L629.0 258.8 L629.3 258.8 L629.6 258.9 L629.8 259.0 L630.1 259.0 L630.4 259.1 L630.6 259.2 L630.9 259.2 L631.2 259.3 L631.4 259.4 L631.7 259.4 L631.9 259.5 L632.2 259.5 L632.4 259.6 L632.7 259.6 L632.9 259.7 L633.2 259.7 L633.4 259.8 L633.7 259.8 L633.9 259.9 L634.1 259.9 L634.4 259.9 L634.6 260.0 L634.8 260.0 L635.1 260.0 L635.3 260.1 L635.5 260.1 L635.7 260.1 L635.9 260.1 L636.2 260.2 L636.4 260.2 L636.6 260.2 L636.8 260.2 L637.0 260.3 L637.2 260.3 L637.3 260.3 L637.5 260.3 L637.7 260.3 L637.9 260.3 L638.0 260.3 L638.2 260.3 L638.4 260.3 L638.5 260.3 L638.7 260.3 L638.8 260.3 L639.0 260.3 L639.1 260.2 L639.3 260.2 L639.4 260.2 L639.6 260.2 L639.7 260.2 L639.9 260.1 L640.0 260.1 L640.2 260.1 L640.3 260.1 L640.5 260.0 L640.7 260.0 L640.8 259.9 L641.0 259.9 L641.2 259.8 L641.4 259.8 L641.5 259.8 L641.7 259.7 L641.9 259.7 L642.0 259.6 L642.2 259.6 L642.4 259.5 L642.5 259.5 L642.7 259.4 L642.8 259.4 L643.0 259.3 L643.2 259.2 L643.4 259.2 L643.5 259.1 L643.7 259.1 L643.9 259.0 L644.0 259.0 L644.2 258.9 L644.4 258.9 L644.5 258.8 L644.7 258.8 L644.9 258.7 L645.0 258.7 L645.2 258.6 L645.3 258.6 L645.4 258.5 L645.5 258.5 L645.6 258.5 L645.7 258.5 L645.7 258.5 L645.7 258.5 L645.7 258.5 L647.1 262.9 L647.0 262.9 L647.0 262.9 L647.0 262.9 L647.0 262.9 L647.0 262.9 L646.9 262.9 L646.9 262.9" /><path d="M348.3 312.7 L346.3 308.5"/><path d="M645.6 258.5 L646.9 262.9"/></g><g stroke-width="1.27"><path d="M345.7 307.5 L345.9 307.4 L346.0 307.3 L346.2 307.2 L346.4 307.1 L346.7 307.0 L346.9 306.9 L347.2 306.8 L347.5 306.6 L347.7 306.5 L348.0 306.3 L348.3 306.2 L348.6 306.0 L348.9 305.9 L349.2 305.7 L349.5 305.6 L349.9 305.4 L350.2 305.3 L350.6 305.1 L350.9 304.9 L351.3 304.7 L351.6 304.6 L352.0 304.4 L352.4 304.2 L352.7 304.0 L353.1 303.8 L353.5 303.7 L353.9 303.5 L354.2 303.3 L354.6 303.1 L355.0 302.9 L355.4 302.7 L355.8 302.5 L356.2 302.3 L356.6 302.1 L357.0 301.9 L357.4 301.7 L357.7 301.5 L358.1 301.3 L358.5 301.2 L358.8 301.0 L359.2 300.8 L359.6 300.6 L359.9 300.4 L360.3 300.2 L360.7 300.0 L361.0 299.8 L361.4 299.7 L361.7 299.5 L362.1 299.3 L362.4 299.1 L362.7 298.9 L363.1 298.8 L363.4 298.6 L363.7 298.4 L364.0 298.2 L364.4 298.0 L364.7 297.9 L365.0 297.7 L365.3 297.5 L365.7 297.3 L366.0 297.2 L366.3 297.0 L366.6 296.8 L367.0 296.6 L367.3 296.4 L367.6 296.3 L367.9 296.1 L368.3 295.9 L368.6 295.7 L368.9 295.5 L369.3 295.3 L369.6 295.2 L369.9 295.0 L370.2 294.8 L370.6 294.6 L370.9 294.4 L371.2 294.2 L371.6 294.0 L371.9 293.9 L372.2 293.7 L372.6 293.5 L372.9 293.3 L373.2 293.1 L373.6 292.9 L373.9 292.7 L374.2 292.5 L374.6 292.3 L374.9 292.1 L375.3 291.9 L375.6 291.7 L375.9 291.5 L376.3 291.3 L376.6 291.1 L377.0 290.9 L377.3 290.7 L377.7 290.5 L378.1 290.3 L378.4 290.1 L378.8 289.8 L379.1 289.6 L379.5 289.4 L379.8 289.2 L380.2 289.0 L380.6 288.8 L380.9 288.5 L381.3 288.3 L381.7 288.1 L382.0 287.9 L382.4 287.7 L382.8 287.4 L383.2 287.2 L383.5 287.0 L383.9 286.7 L384.3 286.5 L384.7 286.3 L385.0 286.0 L385.4 285.8 L385.8 285.6 L386.2 285.3 L386.6 285.1 L386.9 284.9 L387.3 284.6 L387.7 284.4 L388.1 284.2 L388.5 283.9 L388.8 283.7 L389.2 283.5 L389.6 283.2 L390.0 283.0 L390.4 282.8 L390.8 282.5 L391.1 282.3 L391.5 282.1 L391.9 281.8 L392.3 281.6 L392.7 281.4 L393.0 281.1 L393.4 280.9 L393.8 280.7 L394.2 280.4 L394.5 280.2 L394.9 280.0 L395.3 279.7 L395.7 279.5 L396.1 279.3 L396.5 279.0 L396.8 278.8 L397.2 278.5 L397.6 278.3 L398.0 278.1 L398.4 277.8 L398.8 277.6 L399.2 277.4 L399.6 277.1 L400.0 276.9 L400.4 276.7 L400.8 276.4 L401.2 276.2 L401.6 275.9 L402.0 275.7 L402.4 275.4 L402.8 275.2 L403.2 275.0 L403.6 274.7 L404.0 274.5 L404.4 274.3 L404.8 274.0 L405.2 273.8 L405.6 273.6 L406.0 273.3 L406.4 273.1 L406.8 272.9 L407.1 272.7 L407.5 272.4 L407.9 272.2 L408.3 272.0 L408.7 271.8 L409.0 271.6 L409.4 271.4 L409.7 271.2 L410.1 271.0 L410.4 270.8 L410.8 270.6 L411.1 270.5 L411.5 270.3 L411.8 270.1 L412.2 270.0 L412.5 269.8 L412.8 269.7 L413.1 269.5 L413.4 269.4 L413.7 269.3 L414.0 269.1 L414.3 269.0 L414.5 268.9 L414.8 268.8 L415.1 268.7 L415.3 268.6 L415.6 268.5 L415.9 268.5 L416.1 268.4 L416.4 268.3 L416.6 268.2 L416.9 268.1 L417.1 268.1 L417.3 268.0 L417.6 267.9 L417.8 267.9 L418.0 267.8 L418.2 267.8 L418.4 267.7 L418.7 267.7 L418.9 267.6 L419.1 267.6 L419.4 267.5 L419.6 267.4 L419.8 267.4 L420.1 267.3 L420.3 267.3 L420.5 267.2 L420.7 267.2 L421.0 267.1 L421.2 267.0 L421.4 267.0 L421.7 266.9 L421.9 266.8 L422.2 266.8 L422.5 266.7 L422.7 266.6 L423.0 266.5 L423.2 266.4 L423.5 266.4 L423.8 266.3 L424.1 266.2 L424.4 266.1 L424.7 266.0 L425.0 265.8 L425.3 265.7 L425.6 265.6 L426.0 265.4 L426.3 265.3 L426.6 265.2 L426.9 265.0 L427.3 264.8 L427.6 264.7 L427.9 264.5 L428.3 264.3 L428.6 264.1 L428.9 263.9 L429.3 263.7 L429.6 263.5 L429.9 263.3 L430.3 263.1 L430.6 262.9 L431.0 262.7 L431.3 262.4 L431.6 262.2 L431.9 262.0 L432.3 261.8 L432.6 261.5 L432.9 261.3 L433.2 261.1 L433.5 260.8 L433.8 260.6 L434.2 260.4 L434.5 260.1 L434.8 259.9 L435.1 259.7 L435.4 259.4 L435.7 259.2 L436.0 258.9 L436.4 258.7 L436.7 258.5 L437.0 258.2 L437.3 258.0 L437.5 257.8 L437.8 257.6 L438.1 257.3 L438.4 257.1 L438.7 256.9 L439.0 256.7 L439.3 256.5 L439.6 256.3 L439.9 256.0 L440.2 255.8 L440.5 255.6 L440.8 255.4 L441.0 255.2 L441.3 255.0 L441.6 254.8 L441.9 254.6 L442.2 254.4 L442.4 254.2 L442.7 254.0 L443.0 253.8 L443.3 253.6 L443.5 253.4 L443.8 253.2 L444.1 253.0 L444.4 252.9 L444.6 252.7 L444.9 252.5 L445.2 252.3 L445.5 252.1 L445.7 251.9 L446.0 251.7 L446.3 251.5 L446.5 251.4 L446.8 251.2 L447.1 251.0 L447.3 250.8 L447.6 250.7 L447.9 250.5 L448.1 250.3 L448.4 250.1 L448.7 250.0 L449.0 249.8 L449.2 249.6 L449.5 249.4 L449.8 249.3 L450.0 249.1 L450.3 248.9 L450.6 248.8 L450.9 248.6 L451.2 248.4 L451.5 248.3 L451.7 248.1 L452.0 247.9 L452.3 247.8 L452.6 247.6 L452.9 247.4 L453.2 247.3 L453.5 247.1 L453.8 246.9 L454.1 246.8 L454.4 246.6 L454.8 246.4 L455.1 246.3 L455.4 246.1 L455.7 245.9 L456.1 245.7 L456.4 245.6 L456.7 245.4 L457.1 245.2 L457.4 245.1 L457.8 244.9 L458.1 244.7 L458.4 244.6 L458.8 244.4 L459.1 244.2 L459.5 244.1 L459.8 243.9 L460.2 243.7 L460.6 243.6 L460.9 243.4 L461.3 243.2 L461.6 243.1 L462.0 242.9 L462.4 242.7 L462.7 242.6 L463.1 242.4 L463.5 242.2 L463.8 242.1 L464.2 241.9 L464.6 241.8 L465.0 241.6 L465.3 241.4 L465.7 241.3 L466.1 241.1 L466.5 241.0 L466.8 240.8 L467.2 240.7 L467.6 240.5 L468.0 240.3 L468.4 240.2 L468.7 240.0 L469.1 239.9 L469.5 239.8 L469.9 239.6 L470.3 239.5 L470.7 239.3 L471.1 239.2 L471.4 239.0 L471.8 238.9 L472.2 238.7 L472.6 238.6 L473.0 238.4 L473.4 238.3 L473.8 238.1 L474.1 238.0 L474.5 237.9 L474.9 237.7 L475.3 237.6 L475.7 237.4 L476.0 237.3 L476.4 237.2 L476.8 237.0 L477.2 236.9 L477.6 236.8 L477.9 236.6 L478.3 236.5 L478.7 236.4 L479.1 236.2 L479.4 236.1 L479.8 236.0 L480.2 235.9 L480.6 235.7 L480.9 235.6 L481.3 235.5 L481.7 235.4 L482.1 235.2 L482.5 235.1 L482.9 235.0 L483.2 234.9 L483.6 234.8 L484.0 234.7 L484.4 234.6 L484.8 234.5 L485.2 234.4 L485.6 234.2 L486.0 234.1 L486.5 234.0 L486.9 233.9 L487.3 233.9 L487.7 233.8 L488.2 233.7 L488.6 233.6 L489.1 233.5 L489.5 233.4 L490.0 233.3 L490.5 233.2 L490.9 233.1 L491.4 233.0 L491.9 232.9 L492.4 232.8 L493.0 232.8 L493.5 232.7 L494.0 232.6 L494.6 232.5 L495.1 232.4 L495.7 232.3 L496.2 232.2 L496.8 232.1 L497.3 232.1 L497.9 232.0 L498.5 231.9 L499.1 231.8 L499.7 231.7 L500.2 231.6 L500.8 231.6 L501.4 231.5 L502.0 231.4 L502.6 231.3 L503.2 231.3 L503.8 231.2 L504.4 231.1 L505.0 231.1 L505.6 231.0 L506.2 231.0 L506.8 230.9 L507.4 230.9 L508.0 230.8 L508.6 230.8 L509.2 230.7 L509.8 230.7 L510.3 230.7 L510.9 230.6 L511.5 230.6 L512.1 230.6 L512.6 230.6 L513.2 230.6 L513.8 230.6 L514.3 230.6 L514.9 230.6 L515.4 230.6 L516.0 230.6 L516.5 230.6 L517.1 230.6 L517.6 230.7 L518.1 230.7 L518.7 230.7 L519.2 230.8 L519.7 230.8 L520.2 230.9 L520.7 230.9 L521.2 231.0 L521.7 231.1 L522.2 231.1 L522.7 231.2 L523.2 231.3 L523.7 231.4 L524.2 231.5 L524.7 231.6 L525.2 231.7 L525.7 231.8 L526.2 231.9 L526.6 232.0 L527.1 232.1 L527.6 232.2 L528.1 232.4 L528.6 232.5 L529.1 232.6 L529.7 232.8 L530.2 232.9 L530.7 233.0 L531.2 233.2 L531.7 233.3 L532.2 233.5 L532.7 233.6 L533.3 233.8 L533.8 233.9 L534.3 234.1 L534.8 234.3 L535.4 234.4 L535.9 234.6 L536.5 234.8 L537.1 235.0 L537.6 235.1 L538.2 235.3 L538.7 235.5 L539.3 235.7 L539.9 235.8 L540.5 236.0 L541.1 236.2 L541.6 236.4 L542.2 236.6 L542.8 236.8 L543.4 237.0 L544.0 237.2 L544.6 237.3 L545.3 237.5 L545.9 237.7 L546.5 237.9 L547.1 238.1 L547.8 238.4 L548.4 238.6 L549.0 238.8 L549.7 239.0 L550.3 239.2 L550.9 239.4 L551.6 239.6 L552.2 239.9 L552.9 240.1 L553.5 240.3 L554.2 240.5 L554.9 240.8 L555.5 241.0 L556.2 241.3 L556.9 241.5 L557.5 241.7 L558.2 242.0 L558.9 242.2 L559.5 242.5 L560.2 242.7 L560.9 243.0 L561.6 243.2 L562.3 243.5 L562.9 243.7 L563.6 244.0 L564.3 244.2 L565.0 244.5 L565.7 244.8 L566.4 245.0 L567.0 245.3 L567.7 245.5 L568.4 245.8 L569.1 246.0 L569.7 246.3 L570.4 246.5 L571.1 246.8 L571.7 247.1 L572.4 247.3 L573.1 247.6 L573.8 247.8 L574.4 248.1 L575.1 248.4 L575.8 248.6 L576.5 248.9 L577.2 249.2 L577.9 249.4 L578.6 249.7 L579.3 250.0 L579.9 250.2 L580.6 250.5 L581.3 250.8 L582.0 251.1 L582.7 251.3 L583.4 251.6 L584.1 251.9 L584.9 252.2 L585.6 252.5 L586.3 252.8 L587.0 253.1 L587.7 253.4 L588.5 253.7 L589.2 254.0 L589.9 254.3 L590.6 254.5 L591.3 254.8 L592.0 255.1 L592.7 255.4 L593.4 255.7 L594.1 256.0 L594.8 256.3 L595.5 256.6 L596.2 256.8 L596.9 257.1 L597.5 257.4 L598.2 257.7 L598.9 257.9 L599.5 258.2 L600.1 258.5 L600.8 258.7 L601.4 259.0 L602.0 259.2 L602.6 259.5 L603.2 259.7 L603.8 260.0 L604.3 260.2 L604.9 260.4 L605.5 260.7 L606.0 260.9 L606.5 261.1 L607.0 261.3 L607.5 261.5 L608.0 261.7 L608.5 261.9 L608.9 262.1 L609.3 262.3 L609.8 262.5 L610.2 262.6 L610.6 262.8 L611.0 263.0 L611.4 263.1 L611.8 263.3 L612.1 263.5 L612.5 263.6 L612.9 263.8 L613.2 263.9 L613.6 264.1 L613.9 264.2 L614.2 264.4 L614.6 264.5 L614.9 264.6 L615.2 264.8 L615.5 264.9 L615.8 265.1 L616.1 265.2 L616.5 265.3 L616.8 265.4 L617.1 265.6 L617.3 265.7 L617.6 265.8 L617.9 265.9 L618.2 266.1 L618.5 266.2 L618.8 266.3 L619.1 266.4 L619.4 266.5 L619.7 266.7 L620.0 266.8 L620.3 266.9 L620.6 267.0 L620.9 267.1 L621.3 267.2 L621.6 267.3 L621.9 267.4 L622.2 267.6 L622.5 267.7 L622.8 267.8 L623.1 267.9 L623.4 268.0 L623.8 268.1 L624.1 268.2 L624.4 268.3 L624.7 268.3 L625.0 268.4 L625.4 268.5 L625.7 268.6 L626.0 268.7 L626.3 268.8 L626.6 268.9 L626.9 269.0 L627.3 269.0 L627.6 269.1 L627.9 269.2 L628.2 269.3 L628.5 269.4 L628.8 269.4 L629.1 269.5 L629.4 269.6 L629.7 269.6 L630.0 269.7 L630.3 269.8 L630.6 269.8 L630.9 269.9 L631.2 269.9 L631.5 270.0 L631.8 270.1 L632.1 270.1 L632.4 270.2 L632.7 270.2 L633.0 270.2 L633.3 270.3 L633.6 270.3 L633.9 270.4 L634.2 270.4 L634.5 270.4 L634.8 270.5 L635.0 270.5 L635.3 270.5 L635.6 270.6 L635.9 270.6 L636.2 270.6 L636.5 270.6 L636.8 270.7 L637.1 270.7 L637.4 270.7 L637.7 270.7 L638.0 270.7 L638.3 270.7 L638.6 270.7 L638.9 270.7 L639.2 270.7 L639.5 270.6 L639.8 270.6 L640.1 270.6 L640.4 270.6 L640.7 270.5 L641.0 270.5 L641.3 270.4 L641.6 270.4 L641.9 270.3 L642.2 270.3 L642.5 270.2 L642.8 270.2 L643.0 270.1 L643.3 270.0 L643.6 270.0 L643.8 269.9 L644.1 269.8 L644.3 269.8 L644.5 269.7 L644.7 269.7 L645.0 269.6 L645.2 269.5 L645.4 269.5 L645.7 269.4 L645.9 269.3 L646.1 269.2 L646.3 269.2 L646.5 269.1 L646.6 269.1 L646.8 269.0 L646.9 269.0 L647.1 268.9 L647.2 268.9 L647.4 268.8 L647.5 268.8 L647.6 268.7 L647.8 268.7 L647.9 268.7 L648.0 268.6 L648.1 268.6 L648.2 268.6 L648.3 268.5 L648.3 268.5 L648.4 268.5 L648.5 268.5 L648.5 268.5 L648.5 268.5 L648.5 268.5 L647.2 264.1 L647.1 264.1 L647.1 264.1 L647.1 264.1 L647.1 264.1 L647.1 264.1 L647.1 264.1 L647.1 264.1" /><path d="M343.7 303.3 L343.8 303.3 L344.0 303.2 L344.2 303.1 L344.4 303.0 L344.6 302.9 L344.9 302.8 L345.1 302.6 L345.4 302.5 L345.7 302.3 L346.0 302.2 L346.3 302.1 L346.6 301.9 L346.9 301.8 L347.2 301.6 L347.5 301.5 L347.9 301.3 L348.2 301.1 L348.5 301.0 L348.9 300.8 L349.3 300.6 L349.6 300.4 L350.0 300.3 L350.3 300.1 L350.7 299.9 L351.1 299.7 L351.4 299.5 L351.8 299.3 L352.2 299.2 L352.6 299.0 L353.0 298.8 L353.4 298.6 L353.8 298.4 L354.1 298.2 L354.5 298.0 L354.9 297.8 L355.3 297.6 L355.6 297.4 L356.0 297.2 L356.4 297.1 L356.7 296.9 L357.1 296.7 L357.5 296.5 L357.8 296.3 L358.2 296.1 L358.5 295.9 L358.9 295.8 L359.2 295.6 L359.6 295.4 L359.9 295.2 L360.2 295.0 L360.6 294.9 L360.9 294.7 L361.2 294.5 L361.5 294.4 L361.9 294.2 L362.2 294.0 L362.5 293.8 L362.8 293.7 L363.1 293.5 L363.5 293.3 L363.8 293.1 L364.1 293.0 L364.4 292.8 L364.7 292.6 L365.1 292.4 L365.4 292.2 L365.7 292.1 L366.0 291.9 L366.4 291.7 L366.7 291.5 L367.0 291.3 L367.3 291.2 L367.6 291.0 L368.0 290.8 L368.3 290.6 L368.6 290.4 L368.9 290.2 L369.3 290.0 L369.6 289.9 L369.9 289.7 L370.3 289.5 L370.6 289.3 L370.9 289.1 L371.3 288.9 L371.6 288.7 L371.9 288.5 L372.3 288.3 L372.6 288.1 L372.9 287.9 L373.3 287.7 L373.6 287.5 L374.0 287.3 L374.3 287.1 L374.7 286.9 L375.0 286.7 L375.4 286.5 L375.7 286.3 L376.1 286.1 L376.4 285.9 L376.8 285.7 L377.1 285.5 L377.5 285.3 L377.8 285.0 L378.2 284.8 L378.6 284.6 L378.9 284.4 L379.3 284.2 L379.7 283.9 L380.0 283.7 L380.4 283.5 L380.8 283.3 L381.1 283.0 L381.5 282.8 L381.9 282.6 L382.3 282.4 L382.6 282.1 L383.0 281.9 L383.4 281.7 L383.8 281.4 L384.1 281.2 L384.5 281.0 L384.9 280.7 L385.3 280.5 L385.7 280.3 L386.0 280.0 L386.4 279.8 L386.8 279.6 L387.2 279.3 L387.6 279.1 L388.0 278.8 L388.3 278.6 L388.7 278.4 L389.1 278.1 L389.5 277.9 L389.9 277.7 L390.2 277.4 L390.6 277.2 L391.0 277.0 L391.4 276.7 L391.8 276.5 L392.1 276.3 L392.5 276.0 L392.9 275.8 L393.3 275.6 L393.7 275.3 L394.1 275.1 L394.5 274.9 L394.8 274.6 L395.2 274.4 L395.6 274.1 L396.0 273.9 L396.4 273.7 L396.8 273.4 L397.2 273.2 L397.6 272.9 L398.0 272.7 L398.4 272.5 L398.8 272.2 L399.2 272.0 L399.6 271.7 L400.0 271.5 L400.4 271.3 L400.8 271.0 L401.2 270.8 L401.7 270.5 L402.1 270.3 L402.5 270.1 L402.9 269.8 L403.3 269.6 L403.7 269.4 L404.0 269.1 L404.4 268.9 L404.8 268.7 L405.2 268.4 L405.6 268.2 L406.0 268.0 L406.4 267.8 L406.8 267.6 L407.2 267.3 L407.6 267.1 L407.9 266.9 L408.3 266.7 L408.7 266.6 L409.1 266.4 L409.4 266.2 L409.8 266.0 L410.2 265.8 L410.5 265.7 L410.9 265.5 L411.2 265.3 L411.6 265.2 L411.9 265.0 L412.2 264.9 L412.6 264.7 L412.9 264.6 L413.2 264.5 L413.5 264.4 L413.9 264.3 L414.2 264.2 L414.4 264.1 L414.7 264.0 L415.0 263.9 L415.3 263.8 L415.5 263.7 L415.8 263.7 L416.1 263.6 L416.4 263.5 L416.6 263.4 L416.9 263.4 L417.1 263.3 L417.4 263.3 L417.6 263.2 L417.8 263.1 L418.0 263.1 L418.2 263.0 L418.5 263.0 L418.7 262.9 L418.9 262.9 L419.2 262.8 L419.4 262.7 L419.6 262.7 L419.8 262.6 L420.0 262.6 L420.3 262.5 L420.5 262.5 L420.7 262.4 L420.9 262.3 L421.1 262.3 L421.4 262.2 L421.6 262.1 L421.9 262.0 L422.1 262.0 L422.4 261.9 L422.6 261.8 L422.9 261.7 L423.1 261.6 L423.4 261.5 L423.6 261.5 L423.8 261.4 L424.1 261.2 L424.3 261.1 L424.6 261.0 L424.9 260.9 L425.2 260.7 L425.5 260.6 L425.8 260.4 L426.1 260.3 L426.4 260.1 L426.6 259.9 L426.9 259.8 L427.2 259.6 L427.5 259.4 L427.8 259.2 L428.1 259.1 L428.4 258.9 L428.7 258.7 L429.0 258.5 L429.3 258.2 L429.6 258.0 L429.9 257.8 L430.2 257.6 L430.5 257.4 L430.8 257.1 L431.1 256.9 L431.4 256.7 L431.7 256.5 L432.0 256.2 L432.3 256.0 L432.6 255.8 L432.9 255.5 L433.2 255.3 L433.5 255.1 L433.9 254.8 L434.2 254.6 L434.5 254.3 L434.8 254.1 L435.1 253.9 L435.4 253.7 L435.7 253.4 L436.0 253.2 L436.3 253.0 L436.6 252.8 L436.9 252.6 L437.2 252.3 L437.5 252.1 L437.8 251.9 L438.0 251.7 L438.3 251.5 L438.6 251.3 L438.9 251.1 L439.2 250.9 L439.5 250.6 L439.8 250.4 L440.1 250.2 L440.4 250.0 L440.6 249.8 L440.9 249.7 L441.2 249.5 L441.5 249.3 L441.8 249.1 L442.0 248.9 L442.3 248.7 L442.6 248.5 L442.9 248.3 L443.1 248.1 L443.4 247.9 L443.7 247.7 L444.0 247.6 L444.2 247.4 L444.5 247.2 L444.8 247.0 L445.1 246.8 L445.4 246.6 L445.6 246.4 L445.9 246.3 L446.2 246.1 L446.5 245.9 L446.8 245.7 L447.1 245.5 L447.3 245.4 L447.6 245.2 L447.9 245.0 L448.2 244.8 L448.5 244.6 L448.8 244.5 L449.1 244.3 L449.4 244.1 L449.7 243.9 L450.0 243.8 L450.4 243.6 L450.7 243.4 L451.0 243.2 L451.3 243.1 L451.6 242.9 L452.0 242.7 L452.3 242.5 L452.6 242.4 L452.9 242.2 L453.3 242.0 L453.6 241.8 L454.0 241.6 L454.3 241.5 L454.7 241.3 L455.0 241.1 L455.4 240.9 L455.7 240.8 L456.1 240.6 L456.4 240.4 L456.8 240.2 L457.2 240.1 L457.5 239.9 L457.9 239.7 L458.3 239.6 L458.6 239.4 L459.0 239.2 L459.4 239.0 L459.7 238.9 L460.1 238.7 L460.5 238.5 L460.9 238.4 L461.2 238.2 L461.6 238.0 L462.0 237.9 L462.4 237.7 L462.8 237.5 L463.2 237.4 L463.5 237.2 L463.9 237.0 L464.3 236.9 L464.7 236.7 L465.1 236.6 L465.5 236.4 L465.9 236.2 L466.3 236.1 L466.7 235.9 L467.1 235.8 L467.5 235.6 L467.9 235.5 L468.2 235.3 L468.6 235.2 L469.0 235.0 L469.4 234.9 L469.8 234.7 L470.2 234.6 L470.6 234.4 L471.0 234.3 L471.4 234.1 L471.8 234.0 L472.1 233.8 L472.5 233.7 L472.9 233.5 L473.3 233.4 L473.7 233.3 L474.1 233.1 L474.5 233.0 L474.9 232.8 L475.3 232.7 L475.6 232.6 L476.0 232.4 L476.4 232.3 L476.8 232.2 L477.2 232.0 L477.6 231.9 L477.9 231.8 L478.3 231.6 L478.7 231.5 L479.1 231.4 L479.5 231.2 L479.9 231.1 L480.3 231.0 L480.7 230.9 L481.1 230.7 L481.5 230.6 L481.9 230.5 L482.4 230.4 L482.8 230.2 L483.2 230.1 L483.6 230.0 L484.1 229.9 L484.5 229.8 L485.0 229.7 L485.4 229.6 L485.8 229.5 L486.3 229.4 L486.8 229.3 L487.2 229.2 L487.7 229.1 L488.1 229.0 L488.6 228.9 L489.1 228.8 L489.6 228.7 L490.1 228.6 L490.6 228.5 L491.1 228.4 L491.7 228.3 L492.2 228.2 L492.7 228.1 L493.3 228.0 L493.8 227.9 L494.4 227.9 L495.0 227.8 L495.5 227.7 L496.1 227.6 L496.7 227.5 L497.2 227.4 L497.8 227.3 L498.4 227.3 L499.0 227.2 L499.6 227.1 L500.2 227.0 L500.8 226.9 L501.4 226.8 L502.1 226.8 L502.7 226.7 L503.3 226.6 L503.9 226.6 L504.5 226.5 L505.1 226.4 L505.8 226.4 L506.4 226.3 L507.0 226.3 L507.6 226.2 L508.2 226.2 L508.9 226.1 L509.5 226.1 L510.1 226.1 L510.7 226.0 L511.3 226.0 L512.0 226.0 L512.6 226.0 L513.2 226.0 L513.8 226.0 L514.3 226.0 L514.9 226.0 L515.5 226.0 L516.1 226.0 L516.7 226.0 L517.3 226.0 L517.9 226.1 L518.5 226.1 L519.0 226.1 L519.6 226.2 L520.2 226.2 L520.7 226.3 L521.3 226.4 L521.8 226.4 L522.3 226.5 L522.9 226.6 L523.4 226.7 L523.9 226.8 L524.5 226.9 L525.0 227.0 L525.6 227.1 L526.1 227.2 L526.6 227.3 L527.2 227.4 L527.7 227.5 L528.2 227.6 L528.7 227.8 L529.3 227.9 L529.8 228.0 L530.3 228.2 L530.8 228.3 L531.4 228.5 L531.9 228.6 L532.4 228.7 L533.0 228.9 L533.5 229.1 L534.0 229.2 L534.6 229.4 L535.1 229.5 L535.7 229.7 L536.2 229.9 L536.7 230.0 L537.3 230.2 L537.8 230.4 L538.4 230.6 L539.0 230.7 L539.5 230.9 L540.1 231.1 L540.7 231.3 L541.3 231.4 L541.9 231.6 L542.4 231.8 L543.0 232.0 L543.6 232.2 L544.2 232.4 L544.8 232.6 L545.4 232.8 L546.1 233.0 L546.7 233.2 L547.3 233.4 L547.9 233.6 L548.5 233.8 L549.2 234.0 L549.8 234.2 L550.5 234.4 L551.1 234.6 L551.8 234.8 L552.4 235.1 L553.1 235.3 L553.7 235.5 L554.4 235.7 L555.1 236.0 L555.7 236.2 L556.4 236.4 L557.1 236.7 L557.7 236.9 L558.4 237.2 L559.1 237.4 L559.8 237.7 L560.4 237.9 L561.1 238.2 L561.8 238.4 L562.5 238.7 L563.2 238.9 L563.9 239.2 L564.6 239.4 L565.2 239.7 L565.9 239.9 L566.6 240.2 L567.3 240.4 L568.0 240.7 L568.7 241.0 L569.3 241.2 L570.0 241.5 L570.7 241.7 L571.4 242.0 L572.0 242.2 L572.7 242.5 L573.4 242.8 L574.1 243.0 L574.7 243.3 L575.4 243.5 L576.1 243.8 L576.8 244.1 L577.5 244.3 L578.2 244.6 L578.9 244.9 L579.5 245.1 L580.2 245.4 L580.9 245.7 L581.6 246.0 L582.3 246.2 L583.0 246.5 L583.7 246.8 L584.4 247.1 L585.1 247.4 L585.9 247.6 L586.6 247.9 L587.3 248.2 L588.0 248.5 L588.8 248.8 L589.5 249.1 L590.2 249.4 L590.9 249.7 L591.6 250.0 L592.4 250.3 L593.1 250.6 L593.8 250.9 L594.5 251.2 L595.2 251.4 L595.9 251.7 L596.6 252.0 L597.3 252.3 L597.9 252.6 L598.6 252.9 L599.3 253.2 L600.0 253.4 L600.6 253.7 L601.3 254.0 L601.9 254.2 L602.5 254.5 L603.1 254.7 L603.7 255.0 L604.3 255.2 L604.9 255.5 L605.5 255.7 L606.1 256.0 L606.7 256.2 L607.2 256.4 L607.7 256.6 L608.3 256.8 L608.8 257.1 L609.3 257.3 L609.8 257.5 L610.2 257.7 L610.7 257.8 L611.1 258.0 L611.5 258.2 L612.0 258.4 L612.4 258.6 L612.8 258.7 L613.2 258.9 L613.6 259.1 L614.0 259.2 L614.3 259.4 L614.7 259.5 L615.1 259.7 L615.4 259.9 L615.7 260.0 L616.1 260.1 L616.4 260.3 L616.7 260.4 L617.0 260.6 L617.3 260.7 L617.6 260.8 L617.9 261.0 L618.3 261.1 L618.6 261.2 L618.8 261.3 L619.1 261.5 L619.4 261.6 L619.7 261.7 L620.0 261.8 L620.3 261.9 L620.5 262.0 L620.8 262.1 L621.1 262.3 L621.4 262.4 L621.6 262.5 L621.9 262.6 L622.2 262.7 L622.5 262.8 L622.8 262.9 L623.1 263.0 L623.4 263.1 L623.7 263.2 L624.0 263.3 L624.2 263.4 L624.5 263.5 L624.8 263.6 L625.1 263.7 L625.4 263.8 L625.7 263.8 L626.0 263.9 L626.3 264.0 L626.6 264.1 L626.9 264.2 L627.2 264.3 L627.5 264.4 L627.8 264.4 L628.1 264.5 L628.4 264.6 L628.7 264.7 L629.0 264.7 L629.3 264.8 L629.6 264.9 L629.9 264.9 L630.1 265.0 L630.4 265.1 L630.7 265.1 L631.0 265.2 L631.3 265.3 L631.5 265.3 L631.8 265.4 L632.1 265.4 L632.4 265.5 L632.6 265.5 L632.9 265.6 L633.2 265.6 L633.5 265.7 L633.7 265.7 L634.0 265.7 L634.2 265.8 L634.5 265.8 L634.8 265.8 L635.0 265.9 L635.3 265.9 L635.6 265.9 L635.8 266.0 L636.1 266.0 L636.3 266.0 L636.6 266.0 L636.8 266.1 L637.0 266.1 L637.3 266.1 L637.5 266.1 L637.7 266.1 L638.0 266.1 L638.2 266.1 L638.4 266.1 L638.7 266.1 L638.9 266.1 L639.2 266.0 L639.4 266.0 L639.7 266.0 L639.9 266.0 L640.2 266.0 L640.4 265.9 L640.7 265.9 L640.9 265.9 L641.1 265.8 L641.3 265.8 L641.5 265.7 L641.7 265.7 L642.0 265.6 L642.2 265.6 L642.4 265.5 L642.6 265.5 L642.8 265.4 L643.1 265.3 L643.3 265.3 L643.5 265.2 L643.7 265.2 L643.9 265.1 L644.1 265.1 L644.3 265.0 L644.4 264.9 L644.6 264.9 L644.8 264.8 L645.0 264.8 L645.2 264.7 L645.3 264.6 L645.5 264.6 L645.7 264.5 L645.9 264.5 L646.0 264.4 L646.1 264.4 L646.3 264.3 L646.4 264.3 L646.5 264.3 L646.7 264.2 L646.8 264.2 L646.9 264.2 L646.9 264.1 L647.0 264.1 L647.1 264.1 L647.1 264.1 L647.1 264.1 L647.2 264.1 L647.2 264.1 L648.5 268.5 L648.5 268.5 L648.5 268.5 L648.5 268.5 L648.4 268.5 L648.4 268.5 L648.4 268.5 L648.4 268.5" /><path d="M345.7 307.5 L343.7 303.3"/><path d="M647.1 264.1 L648.4 268.5"/></g><g stroke-width="1.42"><path d="M647.2 262.1 L647.3 261.3 L647.3 260.2 L647.4 259.0 L647.4 257.6 L647.5 256.1 L647.5 254.5 L647.6 252.9 L647.6 251.2 L647.7 249.6 L647.7 248.0 L647.7 246.4 L647.7 245.0 L647.7 243.7 L647.7 242.4 L647.7 241.1 L647.7 239.9 L647.7 238.6 L647.7 237.4 L647.6 236.2 L647.6 234.9 L647.5 233.7 L647.4 232.4 L647.3 231.1 L647.2 229.8 L647.1 228.4 L647.0 227.0 L646.9 225.6 L646.8 224.1 L646.7 222.6 L646.5 221.0 L646.4 219.5 L646.2 218.0 L646.0 216.5 L645.8 215.1 L645.5 213.7 L645.2 212.3 L644.8 211.1 L644.4 209.9 L644.0 208.7 L643.6 207.7 L643.2 206.7 L642.7 205.7 L642.2 204.7 L641.7 203.7 L641.1 202.8 L640.6 201.8 L640.0 200.7 L639.4 199.6 L638.7 198.4 L637.9 197.1 L637.0 195.7 L636.1 194.2 L635.2 192.7 L634.2 191.3 L633.3 189.8 L632.4 188.5 L631.6 187.3 L630.9 186.2 L630.3 185.2 L629.8 184.5" /><path d="M641.8 261.9 L641.8 261.1 L641.8 260.0 L641.9 258.8 L641.9 257.4 L642.0 255.9 L642.0 254.3 L642.1 252.7 L642.1 251.1 L642.2 249.4 L642.2 247.9 L642.2 246.4 L642.3 245.0 L642.2 243.7 L642.2 242.4 L642.2 241.2 L642.2 240.0 L642.2 238.8 L642.2 237.6 L642.1 236.4 L642.1 235.2 L642.0 234.0 L641.9 232.8 L641.9 231.5 L641.8 230.2 L641.7 228.8 L641.6 227.4 L641.4 226.0 L641.3 224.5 L641.2 223.0 L641.1 221.6 L640.9 220.1 L640.8 218.7 L640.6 217.4 L640.3 216.1 L640.1 214.8 L639.8 213.7 L639.5 212.6 L639.2 211.6 L638.9 210.7 L638.5 209.8 L638.2 208.9 L637.8 208.1 L637.3 207.2 L636.8 206.4 L636.3 205.4 L635.8 204.5 L635.2 203.4 L634.6 202.4 L633.9 201.2 L633.2 199.9 L632.3 198.6 L631.5 197.1 L630.5 195.7 L629.6 194.2 L628.7 192.8 L627.8 191.5 L627.0 190.3 L626.3 189.2 L625.7 188.2 L625.2 187.5" /><path d="M647.2 262.1 L641.8 261.9"/><path d="M629.8 184.5 L625.2 187.5"/></g><g stroke-width="1.20"><path d="M512.7 493.1 L513.4 493.3 L514.2 493.5 L515.1 493.7 L516.1 493.9 L517.2 494.2 L518.3 494.4 L519.5 494.7 L520.6 495.1 L521.8 495.4 L522.8 495.8 L523.8 496.2 L524.7 496.6 L525.5 497.1 L526.3 497.6 L527.1 498.1 L527.9 498.7 L528.7 499.3 L529.5 500.0 L530.2 500.6 L530.9 501.3 L531.7 502.0 L532.3 502.7 L533.0 503.5 L533.6 504.2 L534.2 504.9 L534.8 505.6 L535.4 506.4 L535.9 507.2 L536.4 508.0 L536.9 508.8 L537.4 509.6 L537.8 510.4 L538.3 511.2 L538.6 512.0 L539.0 512.8 L539.3 513.6 L539.6 514.4 L539.9 515.2 L540.1 516.0 L540.3 516.8 L540.5 517.6 L540.6 518.3 L540.8 519.1 L540.9 519.9 L540.9 520.8 L541.0 521.6 L541.0 522.5 L541.0 523.4 L541.0 524.3 L540.9 525.2 L540.8 526.1 L540.7 527.1 L540.6 528.1 L540.5 529.0 L540.3 530.0 L540.0 531.1 L539.8 532.1 L539.5 533.2 L539.2 534.3 L538.8 535.4 L538.4 536.6 L537.9 537.8 L537.4 539.1 L536.9 540.4 L536.3 541.7 L535.7 543.1 L535.1 544.4 L534.4 545.8 L533.8 547.1 L533.0 548.4 L532.3 549.7 L531.5 551.0 L530.6 552.3 L529.7 553.6 L528.7 554.9 L527.6 556.2 L526.5 557.6 L525.4 558.9 L524.2 560.2 L523.1 561.6 L522.0 562.9 L521.0 564.2 L520.0 565.4 L519.1 566.7 L518.3 567.8 L517.6 568.9 L516.9 570.0 L516.3 571.0 L515.7 572.0 L515.1 573.0 L514.6 574.0 L514.1 575.0 L513.6 576.1 L513.1 577.2 L512.7 578.3 L512.3 579.4 L511.9 580.6 L511.6 581.8 L511.3 582.9 L511.0 584.1 L510.8 585.2 L510.6 586.4 L510.4 587.7 L510.3 588.9 L510.1 590.3 L510.0 591.7 L509.8 593.2 L509.7 594.9 L509.6 596.7 L509.5 598.6 L509.4 600.6 L509.4 602.7 L509.4 604.9 L509.4 607.2 L509.3 609.4 L509.3 611.6 L509.3 613.8 L509.2 615.9 L509.1 618.0 L509.0 619.9 L508.9 621.7 L508.7 623.6 L508.6 625.4 L508.4 627.2 L508.2 628.9 L508.0 630.6 L507.8 632.3 L507.6 633.9 L507.4 635.4 L507.1 636.9 L506.9 638.3 L506.6 639.6 L506.2 640.8 L505.9 642.0 L505.5 643.1 L505.2 644.1 L504.8 645.1 L504.4 646.0 L504.0 646.9 L503.6 647.8 L503.1 648.6 L502.6 649.4 L502.1 650.2 L501.6 650.9 L501.0 651.6 L500.4 652.3 L499.8 653.0 L499.1 653.6 L498.4 654.2 L497.6 654.8 L496.9 655.4 L496.1 655.9 L495.3 656.5 L494.5 657.0 L493.8 657.5 L493.0 658.0 L492.3 658.4 L491.7 658.8 L491.0 659.1 L490.3 659.4 L489.6 659.7 L488.8 660.1 L488.1 660.4 L487.3 660.7 L486.5 661.1 L485.6 661.5 L484.8 662.0 L484.0 662.5 L483.2 663.1 L482.4 663.6 L481.7 664.2 L480.9 664.8 L480.1 665.4 L479.3 666.0 L478.5 666.7 L477.7 667.5 L476.9 668.2 L476.1 669.1 L475.3 670.0 L474.6 670.9 L473.8 671.9 L473.1 672.9 L472.3 674.0 L471.6 675.1 L470.8 676.3 L470.1 677.5 L469.4 678.8 L468.7 680.1 L468.0 681.4 L467.4 682.7 L466.8 684.0 L466.3 685.4 L465.8 686.7 L465.4 688.2 L464.9 689.6 L464.5 691.1 L464.1 692.7 L463.8 694.2 L463.5 695.7 L463.2 697.3 L463.0 698.8 L462.9 700.2 L462.7 701.6 L462.7 703.0 L462.7 704.3 L462.8 705.6 L462.9 706.8 L463.0 708.1 L463.2 709.3 L463.4 710.5 L463.7 711.7 L464.1 712.8 L464.5 713.9 L465.1 715.0 L465.6 715.9 L466.3 716.9 L467.1 717.7 L468.0 718.4 L468.9 719.1 L469.9 719.7 L470.9 720.2 L472.0 720.7 L473.1 721.0 L474.2 721.4 L475.3 721.6 L476.5 721.8 L477.6 722.0 L478.7 722.1 L479.7 722.2 L480.8 722.2 L481.8 722.2 L482.9 722.1 L484.0 722.0 L485.1 721.8 L486.3 721.6 L487.4 721.3 L488.7 720.9 L489.9 720.4 L491.2 719.8 L492.6 719.1 L494.0 718.3 L495.3 717.4 L496.7 716.4 L498.1 715.3 L499.5 714.2 L501.0 713.0 L502.5 711.8 L504.1 710.4 L505.8 709.1 L507.5 707.7 L509.3 706.2 L511.3 704.7 L513.5 703.1 L516.0 701.2 L518.7 699.2 L521.6 697.1 L524.6 694.9 L527.6 692.7 L530.5 690.6 L533.3 688.5 L535.8 686.6 L538.1 685.0 L540.1 683.6 L541.6 682.5" /><path d="M513.7 489.7 L514.2 489.8 L515.0 490.0 L515.9 490.2 L516.9 490.4 L518.0 490.7 L519.2 491.0 L520.4 491.3 L521.7 491.6 L522.9 492.0 L524.1 492.4 L525.3 492.9 L526.3 493.4 L527.3 494.0 L528.3 494.5 L529.2 495.2 L530.1 495.8 L531.0 496.5 L531.8 497.2 L532.6 498.0 L533.4 498.7 L534.2 499.5 L535.0 500.3 L535.7 501.0 L536.4 501.8 L537.0 502.6 L537.7 503.5 L538.3 504.3 L538.9 505.2 L539.5 506.0 L540.0 506.9 L540.5 507.8 L541.0 508.7 L541.5 509.6 L541.9 510.5 L542.3 511.5 L542.7 512.4 L543.0 513.3 L543.3 514.1 L543.6 515.0 L543.8 515.9 L544.0 516.8 L544.2 517.7 L544.3 518.6 L544.4 519.6 L544.5 520.5 L544.6 521.5 L544.6 522.4 L544.6 523.4 L544.6 524.4 L544.5 525.5 L544.4 526.5 L544.3 527.5 L544.2 528.6 L544.0 529.7 L543.8 530.8 L543.6 531.9 L543.3 533.0 L543.0 534.2 L542.6 535.4 L542.2 536.6 L541.8 537.8 L541.3 539.1 L540.8 540.4 L540.2 541.8 L539.6 543.2 L539.0 544.6 L538.4 546.0 L537.7 547.4 L536.9 548.8 L536.2 550.2 L535.4 551.6 L534.5 553.0 L533.6 554.4 L532.6 555.7 L531.5 557.1 L530.4 558.5 L529.3 559.9 L528.1 561.2 L527.0 562.6 L525.9 563.9 L524.8 565.2 L523.8 566.4 L522.9 567.6 L522.1 568.7 L521.3 569.8 L520.6 570.9 L520.0 571.9 L519.4 572.9 L518.8 573.8 L518.3 574.8 L517.8 575.7 L517.3 576.6 L516.9 577.5 L516.5 578.5 L516.1 579.5 L515.7 580.6 L515.4 581.6 L515.1 582.7 L514.8 583.7 L514.6 584.8 L514.3 585.9 L514.2 587.0 L514.0 588.1 L513.8 589.4 L513.7 590.7 L513.6 592.1 L513.4 593.5 L513.3 595.1 L513.2 596.8 L513.1 598.7 L513.0 600.7 L513.0 602.8 L513.0 605.0 L512.9 607.2 L512.9 609.5 L512.9 611.7 L512.9 613.9 L512.8 616.1 L512.7 618.1 L512.6 620.1 L512.5 622.0 L512.3 623.9 L512.2 625.7 L512.0 627.5 L511.8 629.3 L511.6 631.0 L511.4 632.7 L511.2 634.4 L510.9 636.0 L510.7 637.5 L510.4 639.0 L510.0 640.4 L509.7 641.8 L509.3 643.0 L509.0 644.2 L508.6 645.4 L508.1 646.5 L507.7 647.5 L507.2 648.5 L506.7 649.5 L506.2 650.4 L505.6 651.3 L505.1 652.2 L504.4 653.1 L503.8 653.9 L503.0 654.8 L502.3 655.6 L501.5 656.3 L500.7 657.0 L499.8 657.6 L499.0 658.3 L498.2 658.9 L497.4 659.4 L496.5 660.0 L495.8 660.5 L495.0 661.0 L494.2 661.5 L493.3 662.0 L492.5 662.4 L491.7 662.7 L490.9 663.1 L490.2 663.4 L489.4 663.7 L488.7 664.0 L488.0 664.3 L487.4 664.7 L486.7 665.0 L486.0 665.5 L485.3 666.0 L484.5 666.5 L483.8 667.1 L483.1 667.6 L482.3 668.2 L481.6 668.8 L480.9 669.4 L480.2 670.1 L479.5 670.8 L478.8 671.5 L478.1 672.3 L477.4 673.1 L476.7 674.0 L476.0 675.0 L475.3 676.0 L474.6 677.1 L473.9 678.2 L473.2 679.3 L472.5 680.5 L471.9 681.7 L471.3 682.9 L470.7 684.2 L470.2 685.4 L469.7 686.6 L469.2 687.9 L468.8 689.2 L468.4 690.6 L468.0 692.1 L467.6 693.5 L467.3 695.0 L467.0 696.4 L466.8 697.8 L466.6 699.2 L466.4 700.5 L466.3 701.8 L466.3 703.0 L466.3 704.2 L466.4 705.4 L466.4 706.5 L466.6 707.6 L466.7 708.7 L466.9 709.7 L467.2 710.7 L467.5 711.6 L467.8 712.5 L468.2 713.2 L468.6 713.9 L469.1 714.5 L469.6 715.1 L470.2 715.6 L470.9 716.1 L471.6 716.5 L472.4 716.9 L473.3 717.3 L474.2 717.6 L475.1 717.9 L476.1 718.1 L477.0 718.3 L478.0 718.4 L478.9 718.5 L479.9 718.6 L480.8 718.6 L481.7 718.6 L482.6 718.5 L483.5 718.5 L484.5 718.3 L485.4 718.1 L486.4 717.8 L487.4 717.5 L488.5 717.1 L489.6 716.5 L490.8 715.9 L492.1 715.2 L493.3 714.4 L494.6 713.5 L495.9 712.5 L497.3 711.4 L498.7 710.2 L500.2 709.0 L501.8 707.7 L503.5 706.3 L505.2 704.9 L507.1 703.4 L509.1 701.9 L511.3 700.2 L513.8 698.3 L516.6 696.3 L519.5 694.2 L522.5 692.0 L525.4 689.8 L528.4 687.7 L531.1 685.6 L533.7 683.7 L536.0 682.1 L537.9 680.7 L539.4 679.5" /><path d="M512.7 493.1 L513.7 489.7"/><path d="M541.6 682.5 L539.4 679.5"/></g><path d="M513.5 489.6 Q510.5 491 512.5 493.4" stroke-width="1.80"/><g stroke-width="1.35"><path d="M372.9 703.5 L373.4 703.8 L374.0 704.1 L374.7 704.5 L375.5 704.9 L376.3 705.4 L377.2 705.9 L378.2 706.4 L379.1 707.0 L380.1 707.5 L381.1 708.0 L382.0 708.5 L382.9 709.0 L383.8 709.5 L384.6 710.0 L385.5 710.4 L386.4 710.9 L387.3 711.4 L388.1 711.8 L389.0 712.3 L389.9 712.8 L390.8 713.3 L391.6 713.8 L392.5 714.3 L393.4 714.8 L394.3 715.3 L395.3 715.9 L396.2 716.5 L397.2 717.1 L398.1 717.7 L399.1 718.3 L400.1 718.9 L401.0 719.6 L402.0 720.2 L402.9 720.8 L403.9 721.4 L404.8 722.0 L405.7 722.5 L406.5 723.0 L407.3 723.5 L408.1 724.0 L408.9 724.5 L409.7 725.0 L410.5 725.5 L411.3 725.9 L412.2 726.4 L413.0 726.9 L413.9 727.5 L414.9 728.0 L415.8 728.5 L416.7 729.1 L417.7 729.7 L418.6 730.3 L419.7 731.0 L420.7 731.6 L421.8 732.2 L423.0 732.9 L424.2 733.5 L425.5 734.1 L426.8 734.7 L428.3 735.2 L429.7 735.7 L431.3 736.1 L432.9 736.5 L434.6 737.0 L436.4 737.3 L438.1 737.7 L439.9 738.0 L441.7 738.4 L443.4 738.6 L445.1 738.9 L446.7 739.1 L448.2 739.3 L449.7 739.4 L451.1 739.6 L452.5 739.6 L453.9 739.7 L455.2 739.7 L456.6 739.7 L457.9 739.7 L459.2 739.7 L460.5 739.6 L461.8 739.4 L463.1 739.3 L464.4 739.1 L465.7 738.8 L467.0 738.6 L468.3 738.3 L469.6 737.9 L470.9 737.6 L472.2 737.2 L473.4 736.7 L474.7 736.3 L476.0 735.8 L477.3 735.2 L478.6 734.7 L480.0 734.1 L481.3 733.5 L482.7 732.8 L484.0 732.1 L485.4 731.3 L486.8 730.6 L488.2 729.8 L489.5 728.9 L490.9 728.1 L492.4 727.2 L493.8 726.3 L495.2 725.4 L496.7 724.4 L498.1 723.4 L499.5 722.5 L500.9 721.5 L502.3 720.5 L503.6 719.5 L505.1 718.4 L506.5 717.3 L508.0 716.2 L509.6 715.0 L511.3 713.7 L513.2 712.3 L515.2 710.9 L517.4 709.2 L520.0 707.3 L522.8 705.2 L525.8 703.0 L528.8 700.8 L531.9 698.5 L534.9 696.3 L537.8 694.2 L540.5 692.2 L542.8 690.5 L544.8 689.0 L546.4 687.9" /><path d="M375.1 699.5 L375.6 699.7 L376.2 700.1 L376.9 700.5 L377.7 700.9 L378.5 701.4 L379.4 701.9 L380.4 702.4 L381.4 702.9 L382.3 703.5 L383.3 704.0 L384.2 704.5 L385.1 705.0 L386.0 705.4 L386.8 705.9 L387.7 706.4 L388.5 706.8 L389.4 707.3 L390.3 707.8 L391.2 708.2 L392.1 708.7 L393.0 709.2 L393.9 709.7 L394.8 710.3 L395.8 710.8 L396.7 711.4 L397.7 712.0 L398.7 712.6 L399.6 713.2 L400.6 713.8 L401.6 714.5 L402.6 715.1 L403.5 715.7 L404.5 716.3 L405.4 716.9 L406.3 717.5 L407.2 718.0 L408.1 718.6 L408.9 719.1 L409.7 719.6 L410.5 720.1 L411.3 720.6 L412.1 721.0 L412.9 721.5 L413.7 722.0 L414.5 722.5 L415.3 723.0 L416.2 723.5 L417.1 724.0 L418.1 724.6 L419.1 725.2 L420.1 725.8 L421.1 726.4 L422.1 727.0 L423.1 727.6 L424.1 728.2 L425.2 728.8 L426.2 729.4 L427.3 729.9 L428.5 730.4 L429.7 730.8 L431.1 731.3 L432.5 731.7 L434.1 732.1 L435.7 732.5 L437.4 732.8 L439.0 733.2 L440.7 733.5 L442.4 733.8 L444.1 734.1 L445.7 734.3 L447.3 734.5 L448.8 734.7 L450.1 734.9 L451.5 735.0 L452.8 735.1 L454.1 735.1 L455.3 735.1 L456.5 735.2 L457.7 735.1 L458.9 735.1 L460.1 735.0 L461.2 734.9 L462.4 734.7 L463.6 734.5 L464.8 734.3 L466.0 734.1 L467.2 733.8 L468.4 733.5 L469.6 733.2 L470.7 732.8 L471.9 732.4 L473.1 732.0 L474.3 731.5 L475.5 731.0 L476.8 730.5 L478.0 729.9 L479.3 729.3 L480.6 728.7 L481.9 728.0 L483.2 727.3 L484.5 726.6 L485.8 725.8 L487.2 725.0 L488.5 724.2 L489.9 723.3 L491.3 722.4 L492.7 721.5 L494.1 720.6 L495.5 719.6 L496.9 718.7 L498.2 717.8 L499.6 716.8 L500.9 715.8 L502.3 714.8 L503.7 713.7 L505.3 712.5 L506.9 711.3 L508.6 710.0 L510.4 708.6 L512.4 707.1 L514.7 705.5 L517.3 703.6 L520.1 701.5 L523.0 699.3 L526.1 697.1 L529.2 694.8 L532.2 692.6 L535.1 690.5 L537.7 688.5 L540.1 686.8 L542.1 685.3 L543.6 684.1" /><path d="M372.9 703.5 L375.1 699.5"/><path d="M546.4 687.9 L543.6 684.1"/></g><g stroke-width="1.50"><path d="M376.0 702.5 l1.5 0.6"/><path d="M379.3 704.6 l1.5 0.6"/><path d="M382.6 706.7 l1.5 0.6"/><path d="M385.9 708.8 l1.5 0.6"/><path d="M389.2 710.9 l1.5 0.6"/><path d="M392.5 713.0 l1.5 0.6"/><path d="M395.8 715.1 l1.5 0.6"/><path d="M399.1 717.2 l1.5 0.6"/><path d="M402.4 719.3 l1.5 0.6"/><path d="M405.7 721.4 l1.5 0.6"/><path d="M409.0 723.5 l1.5 0.6"/><path d="M412.3 725.6 l1.5 0.6"/></g><path d="M448.5 236.5 Q451 233 454.5 235 L457.5 243.5 Q455 247 451.5 245.5 Z" stroke-width="2.10"/><path d="M451.5 236 L455 245" stroke-width="1.50"/><path d="M374.5 288 Q377 284.5 379.5 287 L381 296 Q379 299.5 376 297.5 Z" stroke-width="2.10"/><path d="M366 288 L370.5 285 L372.5 289 L368.5 291 Z" stroke-width="1.80"/><path d="M607.5 250 Q610 247.5 612.5 249.5 L615.5 260 Q613 263 610 261 Z" stroke-width="1.95"/><path d="M507.5 700.5 Q510 697.5 513 699 L517.5 706 Q515.5 709 512.5 708 Z" stroke-width="2.10"/><path d="M509.5 711 Q512.5 708.5 516 711 Q516.5 716.5 512.5 717.5 Q509 716 509.5 711 Z" stroke-width="1.50" fill="#000"/><path d="M617 177 A6.5 5 -35 1 1 630.5 177.5 A6.5 5 -35 1 1 617 177 Z" stroke-width="2.70"/><path d="M620 177.5 A3.6 2.6 -35 1 1 627.5 177.5 A3.6 2.6 -35 1 1 620 177.5 Z" stroke-width="1.65"/><path d="M637.3 141.2 L627 172.5"/><path d="M609.2 154.2 L619.2 171.5"/><path d="M610.1 156.5 L614.6 165.4 L617.4 163.6 L610.9 155.9 Z" stroke-width="0.90" fill="#000"/><path d="M358 696 A4.8 6 20 1 1 368 696 A4.8 6 20 1 1 358 696 Z" stroke-width="2.40"/><path d="M360.5 696 A2.3 3 20 1 1 365.5 696 A2.3 3 20 1 1 360.5 696 Z" stroke-width="1.50"/><path d="M358 702 L352 730"/><path d="M430 265 L446.1 307.4"/><path d="M420 736.5 L424 772"/><path d="M321.2 319.6 L344.6 306.9"/><path d="M331.2 314.7 L341.7 310.1 L340.3 307.5 L330.8 313.9 Z" stroke-width="0.90" fill="#000"/><path d="M547.4 682.5 L573.7 663.5"/><path d="M572.3 664.1 L563.1 669.2 L564.9 671.8 L572.7 664.7 Z" stroke-width="0.90" fill="#000"/><path d="M444.4 213.7 L447.9 220.4 L451.7 218.4 L449.1 231.1 L437.1 226.1 L440.9 224.1 L437.3 217.5 Z" stroke-width="1.20" fill="#000"/><path d="M359.0 263.6 L363.8 269.7 L367.2 267.0 L366.9 280.3 L353.9 277.4 L357.3 274.7 L352.5 268.6 Z" stroke-width="1.20" fill="#000"/><path d="M588.3 274.9 L593.5 268.8 L590.1 266.0 L603.6 263.4 L603.4 277.2 L600.0 274.3 L594.9 280.4 Z" stroke-width="1.20" fill="#000"/><path d="M514.2 741.0 L514.2 733.4 L510.0 733.4 L518.2 723.2 L526.5 733.4 L522.3 733.4 L522.3 741.0 Z" stroke-width="1.20" fill="#000"/><path d="M416.4 810.5 Q422.5 807.0 428.6 810.5 L428.6 818.0 Q422.5 820.0 416.4 818.0 Z" stroke-width="1.95"/><path d="M416.4 812.0 Q422.5 809.5 428.6 812.0" stroke-width="1.50"/><path d="M421.0 811.0 L421.0 819.0 M424.5 811.0 L424.5 819.0" stroke-width="1.35"/><path d="M419.3 819.0 L419.3 830.5 L425.7 830.5 L425.7 819.0" stroke-width="1.95"/><path d="M419.3 820.5 L425.7 819.9" stroke-width="1.35"/><path d="M419.3 822.9 L425.7 822.3" stroke-width="1.35"/><path d="M419.3 825.3 L425.7 824.7" stroke-width="1.35"/><path d="M419.3 827.7 L425.7 827.1" stroke-width="1.35"/><path d="M419.3 830.1 L425.7 829.5" stroke-width="1.35"/><path d="M416.3 837.8 a6.2 3.6 0 1 0 12.4 0 a6.2 3.6 0 1 0 -12.4 0" stroke-width="3.30"/><path d="M419.5 837.8 a3 1.5 0 1 0 6 0 a3 1.5 0 1 0 -6 0" stroke-width="1.50"/><path d="M422.5 843 L422.5 872"/><path d="M389.5 882.7 L440.4 852.4 M384.5 874.3 L435.4 844.0" stroke-width="1.95"/><ellipse cx="387.0" cy="878.5" rx="2.1" ry="4.9" transform="rotate(-30.8 387.0 878.5)" stroke-width="1.95"/><ellipse cx="437.9" cy="848.2" rx="2.1" ry="4.9" transform="rotate(-30.8 437.9 848.2)" stroke-width="1.95"/><path d="M401.5 861.3 Q404 857 409.6 855.6 L413.1 855 Q416 855.5 416.5 856.7 L418.3 863 L418.8 867.7 L429.2 871.2 Q432 873 431.5 874.6 Q431 877.5 429.2 878.1 L418.8 879.8 L409 872.9 Q408.8 869.5 404.4 864.8 Z" fill="#fff" stroke-width="1.95"/><path d="M409.6 855.6 Q412.5 858 414 863 L414.5 869 M405.5 866 L410 872" stroke-width="1.50"/><path d="M420 873.5 a2.8 1.8 0 1 0 5.6 0 a2.8 1.8 0 1 0 -5.6 0" stroke-width="1.65"/><path d="M418.8 879.8 L419 881.5 L429.5 880 L429.2 878.1" stroke-width="1.95"/><path d="M422.5 843 L422.5 872"/><path d="M386.6 918.8 L443.4 887.1 M381.8 910.0 L438.6 878.3" stroke-width="1.95"/><ellipse cx="384.2" cy="914.4" rx="2.1" ry="5.0" transform="rotate(-29.2 384.2 914.4)" stroke-width="1.95"/><ellipse cx="441.0" cy="882.7" rx="2.1" ry="5.0" transform="rotate(-29.2 441.0 882.7)" stroke-width="1.95"/><path d="M399 899 L408.5 893.5 L422 899 Q428.5 898 429 902.5 L429 906 Q424.5 909 419.5 907.5 L413.5 906 L408 908.5 L404 907 Z" fill="#fff" stroke-width="1.95"/><path d="M404.5 898.5 L417 905 M408.5 893.5 L414 891" stroke-width="1.65"/><path d="M419.5 902.3 a2.8 1.8 0 1 0 5.6 0 a2.8 1.8 0 1 0 -5.6 0" stroke-width="1.65"/><path d="M413.5 906 L419 910 L428 909" stroke-width="1.65"/><path d="M428.6 819.4 L452 808.3"/><path d="M429.8 837.8 L452 833"/><path d="M368.3 852.6 L401.5 861.2"/><path d="M369.5 899.4 L400.3 899.4"/><path d="M577.0 801.5 Q583.3 798.0 589.5999999999999 801.5 L589.5999999999999 808.0 Q583.3 810.0 577.0 808.0 Z" stroke-width="1.95"/><path d="M577.0 803.0 Q583.3 800.5 589.5999999999999 803.0" stroke-width="1.50"/><path d="M581.8 802.0 L581.8 809.0 M585.3 802.0 L585.3 809.0" stroke-width="1.35"/><path d="M580.0 809.0 L580.0 822.5 L586.5999999999999 822.5 L586.5999999999999 809.0" stroke-width="1.95"/><path d="M580.0 810.5 L586.5999999999999 809.9" stroke-width="1.35"/><path d="M580.0 812.9 L586.5999999999999 812.3" stroke-width="1.35"/><path d="M580.0 815.3 L586.5999999999999 814.7" stroke-width="1.35"/><path d="M580.0 817.7 L586.5999999999999 817.1" stroke-width="1.35"/><path d="M580.0 820.1 L586.5999999999999 819.5" stroke-width="1.35"/><path d="M580.0 822.5 L586.5999999999999 821.9" stroke-width="1.35"/><path d="M577 831.6 a6 3.6 0 1 0 12 0 a6 3.6 0 1 0 -12 0" stroke-width="1.50" fill="#000"/><path d="M581.5 831.6 a1.5 0.8 0 1 0 3 0 a1.5 0.8 0 1 0 -3 0" stroke-width="0.75" fill="#fff"/><path d="M574.9 871.1 L625.1 842.2 M570.7 863.9 L620.9 835.0" stroke-width="1.95"/><ellipse cx="572.8" cy="867.5" rx="1.8" ry="4.2" transform="rotate(-29.9 572.8 867.5)" stroke-width="1.95"/><ellipse cx="623.0" cy="838.6" rx="1.8" ry="4.2" transform="rotate(-29.9 623.0 838.6)" stroke-width="1.95"/><path d="M574.5 852 Q576 846 582 845.5 Q587 845 590 848.5 Q594 846 598 845 Q602 846 603.5 852 L603.5 857 Q600 862 594.5 863.5 L590 863.5 L590 858 L585 859.5 Q577 858 574.5 852 Z" fill="#fff" stroke-width="1.95"/><path d="M580.3 849.8 a2 1.3 0 1 0 4 0 a2 1.3 0 1 0 -4 0" stroke-width="1.50"/><path d="M590 848.5 Q593.5 852 593 862" stroke-width="1.65"/><path d="M586 857 L590 858" stroke-width="3.00"/><path d="M572.5 907.8 L628.6 876.9 M567.9 899.4 L624.0 868.5" stroke-width="1.95"/><ellipse cx="570.2" cy="903.6" rx="2.0" ry="4.8" transform="rotate(-28.8 570.2 903.6)" stroke-width="1.95"/><ellipse cx="626.3" cy="872.7" rx="2.0" ry="4.8" transform="rotate(-28.8 626.3 872.7)" stroke-width="1.95"/><path d="M575.5 878.5 Q577.5 874.5 583 875 Q590 876 594 880.5 Q601 883.5 603.5 888 L603.5 895 Q600 899 595 899.5 L591 900 L591 890 L578 884 Q575 882 575.5 878.5 Z" fill="#fff" stroke-width="1.95"/><path d="M580.3 880.5 a2 1.3 0 1 0 4 0 a2 1.3 0 1 0 -4 0" stroke-width="1.50"/><path d="M594 880.5 Q595.5 888 594 899" stroke-width="1.65"/><path d="M577 882 L590 889" stroke-width="2.70" stroke-dasharray="1.2 0.8"/><path d="M543.8 802 L579.6 813.5"/><path d="M545 827.3 L576.2 832"/><path d="M543.8 853.8 L573.8 853.4"/><path d="M542.7 893 L577.3 885"/><g stroke-width="2.40"><path transform="translate(331.00 -6.50) scale(1.0500 1.0200)" d="M1 2 L9 2 Q8.5 6 3 9.5" vector-effect="non-scaling-stroke"/><path transform="translate(342.60 -6.50) scale(1.0500 1.0200)" d="M3 5 L7 5 L7 9 M2 9 L8.5 9" vector-effect="non-scaling-stroke"/><path transform="translate(354.20 -6.50) scale(1.0500 1.0200)" d="M2 2 L8 2 M5 2 L5 8.5 M1 8.5 L9 8.5" vector-effect="non-scaling-stroke"/><path transform="translate(365.80 -6.50) scale(1.0500 1.0200)" d="M3.5 2 L3.5 5 Q3.5 8 1.5 9.5 M6 1.5 L6 8.5 Q8 8 9.5 6" vector-effect="non-scaling-stroke"/><path transform="translate(377.40 -6.50) scale(1.0500 1.0200)" d="M4.5 1 Q3.5 3 1.5 5 M4 2.5 L8.5 2.5 Q7.5 7 2.5 9.8 M3.5 4.5 L7 7" vector-effect="non-scaling-stroke"/><path transform="translate(389.00 -6.50) scale(1.0500 1.0200)" d="M2 2.5 L3.5 3.5 M2 8.5 Q6.5 7.5 9 2.5" vector-effect="non-scaling-stroke"/><path transform="translate(400.60 -6.50) scale(1.0500 1.0200)" d="M4 1 Q3 3 1.5 5 M3.5 2.5 L8 2.5 Q7 7 3 9.8" vector-effect="non-scaling-stroke"/></g><g stroke-width="1.12"><path transform="translate(56.50 273.00) scale(0.7500 0.7000)" d="M2 2 Q1.5 7 3 8 M7 3 Q8.5 5 8.5 7" vector-effect="non-scaling-stroke"/><path transform="translate(65.00 273.00) scale(0.7500 0.7000)" d="M1 3 L5 3 M3.5 1 Q3 6 1.5 9.5 M5.5 4.5 L8.5 4.5 M5.5 8 Q6 9.5 9 9" vector-effect="non-scaling-stroke"/><path transform="translate(73.50 273.00) scale(0.7500 0.7000)" d="M1 3 L8 3 M5.5 1 L5.5 6 Q5.5 7 4.5 6.5 Q3.5 5 5 5 Q6 5.5 5.5 7 Q5 8.5 3.5 9.5 M8 1 L8.5 2 M9 0.5 L9.5 1.5" vector-effect="non-scaling-stroke"/><path transform="translate(82.00 273.00) scale(0.7500 0.7000)" d="M3 1 L5.5 2 M2.5 3.5 L2 6.5 Q5 5 7 6.5 Q8 8.5 3.5 9.5" vector-effect="non-scaling-stroke"/><path transform="translate(90.50 273.00) scale(0.7500 0.7000)" d="M1 1 L1 10 M1 1 L3.5 1 Q3.5 3 2 4.5 Q4 6 2.5 8 M5 2 L9.5 2 M7 0.5 L7 2 M6 2 L6 5 Q6 8 4.5 9.8 M6 5 L9 5 L9 9 Q9 10 8 9.5" vector-effect="non-scaling-stroke"/><path transform="translate(99.00 273.00) scale(0.7500 0.7000)" d="M5 1 L5 9 M5 5 L8.5 5 M2 4 L2 9 M0.5 9 L9.5 9" vector-effect="non-scaling-stroke"/><path transform="translate(107.50 273.00) scale(0.7500 0.7000)" d="M2 1.5 L2 6 Q2 8.5 0.5 10 M2 1.5 L9 1.5 L9 9.8 M2 4.5 L9 4.5 M2 7 L9 7 M5.5 1.5 L5.5 9.8" vector-effect="non-scaling-stroke"/></g><g stroke-width="1.27"><path transform="translate(484.00 130.30) scale(0.7000 0.6600)" d="M1 2 L9 2 Q8.5 6 3 9.5" vector-effect="non-scaling-stroke"/><path transform="translate(492.10 130.30) scale(0.7000 0.6600)" d="M3 5 L7 5 L7 9 M2 9 L8.5 9" vector-effect="non-scaling-stroke"/><path transform="translate(500.20 130.30) scale(0.7000 0.6600)" d="M2 2 L8 2 M5 2 L5 8.5 M1 8.5 L9 8.5" vector-effect="non-scaling-stroke"/><path transform="translate(508.30 130.30) scale(0.7000 0.6600)" d="M3.5 2 L3.5 5 Q3.5 8 1.5 9.5 M6 1.5 L6 8.5 Q8 8 9.5 6" vector-effect="non-scaling-stroke"/><path transform="translate(520.45 130.30) scale(0.7000 0.6600)" d="M8 1.5 Q5 5 1.5 6.5 M5.5 4.5 L5.5 9.8" vector-effect="non-scaling-stroke"/><path transform="translate(528.55 130.30) scale(0.7000 0.6600)" d="M2 2.5 L3.5 3.5 M2 8.5 Q6.5 7.5 9 2.5" vector-effect="non-scaling-stroke"/><path transform="translate(536.65 130.30) scale(0.7000 0.6600)" d="M1.5 2 L3 3 M1 4.5 L2.5 5.5 M2 9 Q6.5 7.5 8.5 2 M7 0.5 L7.5 1.5 M8.5 0.5 L9 1.5" vector-effect="non-scaling-stroke"/><path transform="translate(544.75 130.30) scale(0.7000 0.6600)" d="M3 5 L7 5 M5 5 L5 9 M2.5 9 L7.5 9" vector-effect="non-scaling-stroke"/><path transform="translate(552.85 130.30) scale(0.7000 0.6600)" d="M4 1 Q3 3 1.5 5 M3.5 2.5 L8 2.5 Q7 7 3 9.8" vector-effect="non-scaling-stroke"/><path transform="translate(560.95 130.30) scale(0.7000 0.6600)" d="M2 2 L3.5 3 M1.5 4.5 L3 5.5 M2 9 Q6.5 7.5 8.5 2" vector-effect="non-scaling-stroke"/><path transform="translate(569.05 130.30) scale(0.7000 0.6600)" d="M3 4.5 L7 4.5 L7 9.5 L3 9.5 M3 7 L7 7" vector-effect="non-scaling-stroke"/><path transform="translate(577.15 130.30) scale(0.7000 0.6600)" d="M2 2.5 L3.5 3.5 M2 8.5 Q6.5 7.5 9 2.5" vector-effect="non-scaling-stroke"/><path transform="translate(589.30 130.30) scale(0.7000 0.6600)" d="M5 1 L5 9.5 M1 3.5 L9 3.5 M3 5.5 L1.5 8 M7 5.5 L8.5 8 M8.5 0.2 a0.8 0.8 0 1 0 0.01 0" vector-effect="non-scaling-stroke"/><path transform="translate(597.40 130.30) scale(0.7000 0.6600)" d="M2 2.5 L3.5 3.5 M2 8.5 Q6.5 7.5 9 2.5" vector-effect="non-scaling-stroke"/><path transform="translate(605.50 130.30) scale(0.7000 0.6600)" d="M1 2 L8 2 Q7.5 6 3 9.5 M9 0 a0.8 0.8 0 1 0 0.01 0" vector-effect="non-scaling-stroke"/><path transform="translate(617.65 130.30) scale(0.7000 0.6600)" d="M1 6 L3.5 3 L9 8" vector-effect="non-scaling-stroke"/></g><g stroke-width="1.12"><path transform="translate(379.40 932.60) scale(0.6000 0.6200)" d="M1 10 L5 0.5 L9 10 M2.7 6.5 L7.3 6.5" vector-effect="non-scaling-stroke"/><path transform="translate(395.40 932.30) scale(0.8600 0.6800)" d="M0.5 1.5 L4 1.5 M1 3.5 L3.5 3.5 M1 5 L3.5 5 M1 6.5 L3.5 6.5 L3.5 9 L1 9 Z M5.5 0.5 L6.5 1.5 M9 0.5 L8 1.5 M5 2.5 L9.5 2.5 M5.5 4.5 L9 4.5 M5 6.5 L9.5 6.5 M7.2 2.5 L7.2 10" vector-effect="non-scaling-stroke"/><path transform="translate(410.20 932.30) scale(0.8600 0.6800)" d="M2.5 0.5 L1 3.5 L3.5 3.5 M3.5 2 L1 6 L4 6 M2.5 6 L2.5 10 M1 7.5 L0.5 9 M3.5 7.5 L4 9 M5 2 L9.5 2 L9.5 9.5 L5 9.5 Z M7.2 2 L7.2 9.5 M5 5.7 L9.5 5.7" vector-effect="non-scaling-stroke"/></g><g stroke-width="1.12"><path transform="translate(534.60 933.30) scale(0.5500 0.6000)" d="M2 0.5 L2 10 L6.5 10 Q9 10 9 7.3 Q9 5 6 5 L2 5 M2 0.5 L6 0.5 Q8.5 0.5 8.5 2.8 Q8.5 5 6 5" vector-effect="non-scaling-stroke"/><path transform="translate(549.50 933.00) scale(0.8400 0.6500)" d="M0.5 1.5 L4 1.5 M1 3.5 L3.5 3.5 M1 5 L3.5 5 M1 6.5 L3.5 6.5 L3.5 9 L1 9 Z M5.5 0.5 L6.5 1.5 M9 0.5 L8 1.5 M5 2.5 L9.5 2.5 M5.5 4.5 L9 4.5 M5 6.5 L9.5 6.5 M7.2 2.5 L7.2 10" vector-effect="non-scaling-stroke"/><path transform="translate(564.30 933.00) scale(0.8400 0.6500)" d="M2.5 0.5 L1 3.5 L3.5 3.5 M3.5 2 L1 6 L4 6 M2.5 6 L2.5 10 M1 7.5 L0.5 9 M3.5 7.5 L4 9 M5 2 L9.5 2 L9.5 9.5 L5 9.5 Z M7.2 2 L7.2 9.5 M5 5.7 L9.5 5.7" vector-effect="non-scaling-stroke"/></g></g><g><text transform="matrix(0.14719 0 0 0.18172 244.90 21.98)" style='font-size:100px;font-family:"Liberation Sans",sans-serif;font-weight:bold' fill="#000" stroke="#000" stroke-width="1">Fig.</text><text transform="matrix(0.14551 0 0 0.19275 282.90 22.20)" style='font-size:100px;font-family:"Liberation Sans",sans-serif;font-weight:bold' fill="#000" stroke="#000" stroke-width="1">141</text><text transform="matrix(0.14176 0 0 0.18571 328.80 21.61)" style='font-size:100px;font-family:"Liberation Sans",sans-serif;font-weight:bold' fill="#000" stroke="#000" stroke-width="1">FUEL</text><text transform="matrix(0.16222 0 0 0.19420 374.70 22.10)" style='font-size:100px;font-family:"Liberation Sans",sans-serif;font-weight:bold' fill="#000" stroke="#000" stroke-width="1">TANK</text><text transform="matrix(0.15135 0 0 0.16479 111.00 171.64)" style='font-size:100px;font-family:"Liberation Sans",sans-serif;font-weight:normal' fill="#000" stroke="#000" stroke-width="3.0">20</text><text transform="matrix(0.11316 0 0 0.10000 45.50 289.70)" style='font-size:100px;font-family:"Liberation Sans",sans-serif;font-weight:normal' fill="#000" stroke="#000" stroke-width="3">(For Bandalism) (OP)</text><text transform="matrix(0.13929 0 0 0.15915 188.10 196.94)" style='font-size:100px;font-family:"Liberation Sans",sans-serif;font-weight:normal' fill="#000" stroke="#000" stroke-width="3.0">3</text><text transform="matrix(0.12321 0 0 0.15714 189.90 299.80)" style='font-size:100px;font-family:"Liberation Sans",sans-serif;font-weight:normal' fill="#000" stroke="#000" stroke-width="3.0">2</text><text transform="matrix(0.11000 0 0 0.16154 122.80 342.20)" style='font-size:100px;font-family:"Liberation Serif",serif;font-weight:bold' fill="#000" stroke="#000" stroke-width="2">1</text><text transform="matrix(0.15200 0 0 0.16515 631.90 138.73)" style='font-size:100px;font-family:"Liberation Serif",serif;font-weight:normal' fill="#000" stroke="#000" stroke-width="6">15</text><text transform="matrix(0.11583 0 0 0.10108 493.00 146.88)" style='font-size:100px;font-family:"Liberation Sans",sans-serif;font-weight:normal' fill="#000" stroke="#000" stroke-width="3.5">To Fuel Injection Pump</text><text transform="matrix(0.19306 0 0 0.24203 426.10 209.70)" style='font-size:100px;font-family:"Liberation Sans",sans-serif;font-weight:bold' fill="#000">A</text><text transform="matrix(0.18194 0 0 0.24348 341.00 261.80)" style='font-size:100px;font-family:"Liberation Sans",sans-serif;font-weight:bold' fill="#000">B</text><text transform="matrix(0.18571 0 0 0.22740 306.90 328.27)" style='font-size:100px;font-family:"Liberation Sans",sans-serif;font-weight:normal' fill="#000" stroke="#000" stroke-width="3.0">b</text><text transform="matrix(0.15000 0 0 0.17077 441.90 321.00)" style='font-size:100px;font-family:"Liberation Serif",serif;font-weight:normal' fill="#000" stroke="#000" stroke-width="3">14</text><text transform="matrix(0.18194 0 0 0.24638 571.90 297.80)" style='font-size:100px;font-family:"Liberation Sans",sans-serif;font-weight:bold' fill="#000">A</text><text transform="matrix(0.17321 0 0 0.21091 152.00 468.19)" style='font-size:100px;font-family:"Liberation Sans",sans-serif;font-weight:normal' fill="#000" stroke="#000" stroke-width="3.0">a</text><text transform="matrix(0.14643 0 0 0.15352 4.90 494.65)" style='font-size:100px;font-family:"Liberation Sans",sans-serif;font-weight:normal' fill="#000" stroke="#000" stroke-width="3.0">6</text><text transform="matrix(0.14643 0 0 0.14348 4.90 520.80)" style='font-size:100px;font-family:"Liberation Sans",sans-serif;font-weight:normal' fill="#000" stroke="#000" stroke-width="3.0">4</text><text transform="matrix(0.12679 0 0 0.15857 3.90 644.74)" style='font-size:100px;font-family:"Liberation Sans",sans-serif;font-weight:normal' fill="#000" stroke="#000" stroke-width="3.0">5</text><text transform="matrix(0.14286 0 0 0.15211 2.20 747.65)" style='font-size:100px;font-family:"Liberation Sans",sans-serif;font-weight:normal' fill="#000" stroke="#000" stroke-width="3.0">6</text><text transform="matrix(0.18571 0 0 0.22364 138.10 697.88)" style='font-size:100px;font-family:"Liberation Sans",sans-serif;font-weight:normal' fill="#000" stroke="#000" stroke-width="3">a</text><text transform="matrix(0.13214 0 0 0.14928 77.70 854.70)" style='font-size:100px;font-family:"Liberation Sans",sans-serif;font-weight:normal' fill="#000" stroke="#000" stroke-width="3.0">7</text><text transform="matrix(0.15600 0 0 0.15821 164.20 788.74)" style='font-size:100px;font-family:"Liberation Serif",serif;font-weight:normal' fill="#000" stroke="#000" stroke-width="3">9</text><text transform="matrix(0.15800 0 0 0.15821 202.90 809.54)" style='font-size:100px;font-family:"Liberation Serif",serif;font-weight:normal' fill="#000" stroke="#000" stroke-width="3">8</text><text transform="matrix(0.14687 0 0 0.16154 201.80 887.40)" style='font-size:100px;font-family:"Liberation Serif",serif;font-weight:normal' fill="#000" stroke="#000" stroke-width="2.5">11</text><text transform="matrix(0.15400 0 0 0.15672 252.80 858.94)" style='font-size:100px;font-family:"Liberation Serif",serif;font-weight:normal' fill="#000" stroke="#000" stroke-width="2.5">10</text><text transform="matrix(0.15700 0 0 0.14478 314.80 751.56)" style='font-size:100px;font-family:"Liberation Serif",serif;font-weight:normal' fill="#000" stroke="#000" stroke-width="2.5">13</text><text transform="matrix(0.14500 0 0 0.15692 315.40 793.70)" style='font-size:100px;font-family:"Liberation Serif",serif;font-weight:normal' fill="#000" stroke="#000" stroke-width="2.5">12</text><text transform="matrix(0.15100 0 0 0.16364 342.90 743.34)" style='font-size:100px;font-family:"Liberation Serif",serif;font-weight:normal' fill="#000" stroke="#000" stroke-width="3">15</text><text transform="matrix(0.15100 0 0 0.16462 417.20 785.50)" style='font-size:100px;font-family:"Liberation Serif",serif;font-weight:normal' fill="#000" stroke="#000" stroke-width="3">14</text><text transform="matrix(0.19821 0 0 0.22055 576.90 664.68)" style='font-size:100px;font-family:"Liberation Sans",sans-serif;font-weight:normal' fill="#000" stroke="#000" stroke-width="3.0">b</text><text transform="matrix(0.18194 0 0 0.23043 515.90 760.90)" style='font-size:100px;font-family:"Liberation Sans",sans-serif;font-weight:bold' fill="#000">A</text><text transform="matrix(0.16000 0 0 0.15373 454.00 808.15)" style='font-size:100px;font-family:"Liberation Serif",serif;font-weight:normal' fill="#000" stroke="#000" stroke-width="2.5">18</text><text transform="matrix(0.16000 0 0 0.15672 454.00 838.34)" style='font-size:100px;font-family:"Liberation Serif",serif;font-weight:normal' fill="#000" stroke="#000" stroke-width="2.5">19</text><text transform="matrix(0.14000 0 0 0.14923 352.00 856.50)" style='font-size:100px;font-family:"Liberation Serif",serif;font-weight:normal' fill="#000" stroke="#000" stroke-width="2.5">17</text><text transform="matrix(0.14000 0 0 0.15373 351.00 905.15)" style='font-size:100px;font-family:"Liberation Serif",serif;font-weight:normal' fill="#000" stroke="#000" stroke-width="2.5">16</text><text transform="matrix(0.11449 0 0 0.11781 378.00 949.68)" style='font-size:100px;font-family:"Liberation Sans",sans-serif;font-weight:normal' fill="#000" stroke="#000" stroke-width="1.5">Detail A</text><text transform="matrix(0.16200 0 0 0.15522 526.50 804.04)" style='font-size:100px;font-family:"Liberation Serif",serif;font-weight:normal' fill="#000" stroke="#000" stroke-width="2.5">18</text><text transform="matrix(0.16200 0 0 0.15373 526.50 832.85)" style='font-size:100px;font-family:"Liberation Serif",serif;font-weight:normal' fill="#000" stroke="#000" stroke-width="2.5">19</text><text transform="matrix(0.16200 0 0 0.17313 526.50 859.43)" style='font-size:100px;font-family:"Liberation Serif",serif;font-weight:normal' fill="#000" stroke="#000" stroke-width="2.5">16</text><text transform="matrix(0.16100 0 0 0.17846 525.40 901.20)" style='font-size:100px;font-family:"Liberation Serif",serif;font-weight:normal' fill="#000" stroke="#000" stroke-width="2.5">17</text><text transform="matrix(0.11514 0 0 0.11096 533.50 950.69)" style='font-size:100px;font-family:"Liberation Sans",sans-serif;font-weight:normal' fill="#000" stroke="#000" stroke-width="1.5">Detail B</text></g>
</svg>
</body></html>
